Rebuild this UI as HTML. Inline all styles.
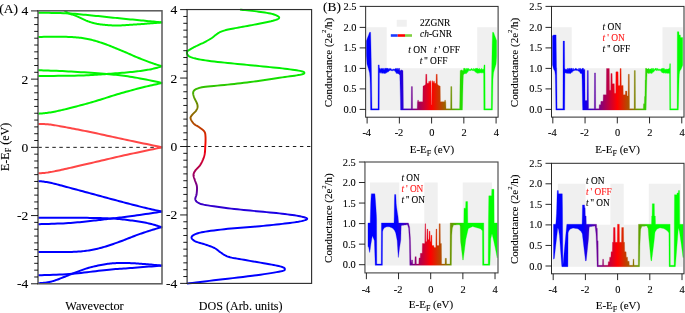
<!DOCTYPE html>
<html lang="en"><head><meta charset="utf-8"><title>Band structure, DOS and conductance</title>
<style>
html,body{margin:0;padding:0;background:#fff;}
body{width:685px;height:313px;overflow:hidden;font-family:"Liberation Serif",serif;}
svg{display:block;position:absolute;left:0;top:0;}
text{font-family:"Liberation Serif",serif;fill:#000;stroke:#000;stroke-width:0.1px;}
.ta text,text.ta{font-size:13.5px;}
.la{font-size:12.3px;}
.tb text{font-size:10.4px;}
.lb{font-size:11px;}
.lg{font-size:9.45px;}.lg text{font-size:inherit;white-space:pre;}
</style></head><body>
<svg width="685" height="313" viewBox="0 0 685 313">
<defs>
<linearGradient id="gy" gradientUnits="userSpaceOnUse" x1="0" y1="72.5" x2="0" y2="220.5">
<stop offset="0" stop-color="#00f000"/><stop offset="0.5" stop-color="#ff0000"/><stop offset="1" stop-color="#0000ff"/></linearGradient>

<linearGradient id="gb1" gradientUnits="userSpaceOnUse" x1="396.94" y1="0" x2="466.26" y2="0"><stop offset="0" stop-color="#0000ff"/><stop offset="0.5" stop-color="#ff0000"/><stop offset="1" stop-color="#00ff00"/></linearGradient>
<linearGradient id="gb2" gradientUnits="userSpaceOnUse" x1="582.64" y1="0" x2="651.96" y2="0"><stop offset="0" stop-color="#0000ff"/><stop offset="0.5" stop-color="#ff0000"/><stop offset="1" stop-color="#00ff00"/></linearGradient>
<linearGradient id="gb3" gradientUnits="userSpaceOnUse" x1="396.13" y1="0" x2="465.27" y2="0"><stop offset="0" stop-color="#0000ff"/><stop offset="0.5" stop-color="#ff0000"/><stop offset="1" stop-color="#00ff00"/></linearGradient>
<linearGradient id="gb4" gradientUnits="userSpaceOnUse" x1="582.99" y1="0" x2="652.22" y2="0"><stop offset="0" stop-color="#0000ff"/><stop offset="0.5" stop-color="#ff0000"/><stop offset="1" stop-color="#00ff00"/></linearGradient>
</defs>
<path d="M38.3,147.35 H162" stroke="#111" stroke-width="0.95" stroke-dasharray="3.5 3.5" fill="none"/>
<clipPath id="ca"><rect x="38" y="10.5" width="124.6" height="273.6"/></clipPath>
<g clip-path="url(#ca)" fill="none" stroke-width="2.0" stroke-linejoin="round">
<path d="M38.2,12.7 L39.67,12.73 L41.53,12.76 L43.71,12.79 L46.17,12.82 L48.84,12.86 L51.65,12.91 L54.55,12.96 L57.49,13.02 L60.39,13.1 L63.2,13.18 L65.85,13.28 L68.3,13.4 L70.59,13.53 L72.83,13.69 L75.02,13.86 L77.17,14.04 L79.29,14.23 L81.39,14.43 L83.47,14.64 L85.54,14.85 L87.61,15.07 L89.69,15.28 L91.78,15.49 L93.9,15.7 L96.03,15.91 L98.15,16.12 L100.28,16.33 L102.4,16.55 L104.53,16.77 L106.65,16.99 L108.77,17.21 L110.9,17.43 L113.02,17.65 L115.15,17.87 L117.27,18.09 L119.4,18.3 L121.56,18.51 L123.76,18.73 L125.99,18.95 L128.23,19.17 L130.48,19.39 L132.71,19.61 L134.92,19.83 L137.08,20.04 L139.18,20.24 L141.21,20.44 L143.16,20.62 L145,20.8 L146.79,20.97 L148.56,21.14 L150.31,21.3 L152.02,21.46 L153.67,21.61 L155.25,21.76 L156.74,21.89 L158.12,22.02 L159.39,22.13 L160.51,22.24 L161.49,22.33 L162.3,22.4" stroke="#00f500"/>
<path d="M62.5,8.6 L62.62,8.71 L62.76,8.84 L62.92,8.99 L63.1,9.16 L63.3,9.35 L63.51,9.54 L63.74,9.75 L63.98,9.96 L64.23,10.18 L64.48,10.39 L64.74,10.6 L65,10.8 L65.26,11 L65.51,11.2 L65.77,11.4 L66.03,11.6 L66.29,11.81 L66.57,12.01 L66.87,12.22 L67.2,12.43 L67.55,12.65 L67.93,12.86 L68.34,13.08 L68.8,13.3 L69.31,13.52 L69.87,13.75 L70.48,13.97 L71.12,14.2 L71.79,14.43 L72.48,14.66 L73.18,14.9 L73.88,15.13 L74.57,15.37 L75.24,15.61 L75.89,15.86 L76.5,16.1 L77.08,16.35 L77.65,16.61 L78.21,16.87 L78.76,17.13 L79.3,17.4 L79.83,17.66 L80.36,17.93 L80.89,18.19 L81.41,18.45 L81.94,18.71 L82.47,18.96 L83,19.2 L83.54,19.44 L84.07,19.67 L84.61,19.9 L85.14,20.13 L85.67,20.36 L86.21,20.58 L86.74,20.8 L87.27,21.01 L87.8,21.22 L88.33,21.42 L88.87,21.61 L89.4,21.8 L89.93,21.98 L90.47,22.16 L91,22.33 L91.53,22.49 L92.07,22.65 L92.6,22.8 L93.13,22.95 L93.67,23.09 L94.2,23.23 L94.73,23.36 L95.27,23.48 L95.8,23.6 L96.33,23.71 L96.85,23.82 L97.37,23.91 L97.88,24 L98.4,24.09 L98.91,24.17 L99.43,24.25 L99.96,24.32 L100.5,24.39 L101.05,24.46 L101.62,24.53 L102.2,24.6 L102.8,24.67 L103.42,24.74 L104.05,24.81 L104.69,24.87 L105.34,24.94 L106,25 L106.66,25.06 L107.33,25.11 L108,25.17 L108.67,25.22 L109.34,25.26 L110,25.3 L110.66,25.34 L111.32,25.37 L111.99,25.4 L112.65,25.43 L113.32,25.45 L113.99,25.47 L114.66,25.48 L115.33,25.5 L116,25.5 L116.66,25.51 L117.33,25.51 L118,25.5 L118.66,25.49 L119.32,25.47 L119.98,25.45 L120.63,25.42 L121.28,25.39 L121.94,25.35 L122.6,25.31 L123.26,25.27 L123.93,25.23 L124.61,25.19 L125.3,25.14 L126,25.1 L126.71,25.06 L127.43,25.01 L128.16,24.97 L128.89,24.92 L129.63,24.87 L130.38,24.82 L131.13,24.77 L131.89,24.71 L132.66,24.66 L133.43,24.61 L134.21,24.55 L135,24.5 L135.78,24.45 L136.52,24.4 L137.26,24.35 L137.99,24.3 L138.73,24.25 L139.48,24.2 L140.27,24.15 L141.09,24.09 L141.96,24.03 L142.9,23.96 L143.91,23.88 L145,23.8 L146.24,23.7 L147.66,23.59 L149.22,23.47 L150.87,23.33 L152.57,23.2 L154.28,23.06 L155.95,22.92 L157.54,22.79 L159.02,22.67 L160.33,22.56 L161.44,22.47 L162.3,22.4" stroke="#00f500"/>
<path d="M38.2,36.9 L39.69,36.89 L41.62,36.88 L43.89,36.86 L46.46,36.83 L49.23,36.81 L52.13,36.79 L55.1,36.77 L58.06,36.77 L60.93,36.77 L63.64,36.8 L66.12,36.84 L68.3,36.9 L70.23,36.98 L72.02,37.07 L73.69,37.17 L75.27,37.28 L76.75,37.41 L78.17,37.54 L79.54,37.7 L80.88,37.86 L82.19,38.05 L83.51,38.25 L84.84,38.46 L86.2,38.7 L87.56,38.95 L88.87,39.22 L90.15,39.5 L91.4,39.79 L92.63,40.1 L93.85,40.43 L95.07,40.78 L96.3,41.14 L97.55,41.52 L98.83,41.93 L100.14,42.35 L101.5,42.8 L102.9,43.27 L104.33,43.78 L105.79,44.31 L107.27,44.86 L108.77,45.44 L110.29,46.02 L111.81,46.63 L113.34,47.24 L114.86,47.85 L116.39,48.47 L117.9,49.09 L119.4,49.7 L120.9,50.32 L122.41,50.96 L123.94,51.61 L125.46,52.27 L126.99,52.94 L128.51,53.61 L130.03,54.28 L131.53,54.94 L133.01,55.58 L134.47,56.21 L135.9,56.82 L137.3,57.4 L138.68,57.96 L140.07,58.52 L141.44,59.07 L142.8,59.61 L144.14,60.13 L145.46,60.64 L146.75,61.14 L148.01,61.61 L149.23,62.07 L150.4,62.51 L151.53,62.92 L152.6,63.3 L153.64,63.66 L154.65,64 L155.65,64.32 L156.61,64.63 L157.53,64.91 L158.41,65.17 L159.23,65.41 L159.99,65.63 L160.69,65.83 L161.31,66.01 L161.85,66.16 L162.3,66.3" stroke="#00f500"/>
<path d="M38.2,70.2 L39.63,70.25 L41.38,70.31 L43.42,70.38 L45.7,70.46 L48.19,70.54 L50.86,70.64 L53.65,70.74 L56.54,70.85 L59.49,70.97 L62.46,71.11 L65.41,71.25 L68.3,71.4 L71.24,71.57 L74.36,71.75 L77.6,71.94 L80.93,72.15 L84.32,72.36 L87.73,72.59 L91.13,72.82 L94.47,73.05 L97.73,73.29 L100.86,73.53 L103.83,73.76 L106.6,74 L109.16,74.23 L111.55,74.44 L113.79,74.65 L115.91,74.86 L117.94,75.07 L119.91,75.29 L121.86,75.52 L123.8,75.77 L125.78,76.04 L127.82,76.33 L129.95,76.65 L132.2,77 L134.65,77.41 L137.3,77.88 L140.11,78.41 L143.01,78.97 L145.95,79.55 L148.85,80.14 L151.66,80.71 L154.33,81.26 L156.79,81.77 L158.97,82.22 L160.83,82.61 L162.3,82.9" stroke="#00f500"/>
<path d="M38.2,76 L40.33,75.98 L43.07,75.96 L46.32,75.93 L49.97,75.91 L53.91,75.88 L58.06,75.84 L62.29,75.8 L66.5,75.76 L70.59,75.71 L74.46,75.65 L78,75.58 L81.1,75.5 L83.83,75.41 L86.36,75.31 L88.7,75.21 L90.89,75.1 L92.95,74.98 L94.93,74.85 L96.85,74.72 L98.74,74.58 L100.63,74.44 L102.55,74.3 L104.53,74.15 L106.6,74 L108.75,73.85 L110.95,73.69 L113.17,73.53 L115.41,73.36 L117.65,73.19 L119.88,73.01 L122.07,72.83 L124.23,72.65 L126.34,72.47 L128.38,72.28 L130.34,72.09 L132.2,71.9 L133.98,71.71 L135.69,71.51 L137.35,71.32 L138.95,71.12 L140.49,70.92 L141.99,70.71 L143.44,70.5 L144.84,70.29 L146.21,70.08 L147.54,69.86 L148.83,69.63 L150.1,69.4 L151.36,69.15 L152.6,68.88 L153.84,68.59 L155.04,68.3 L156.21,67.99 L157.32,67.69 L158.37,67.4 L159.35,67.13 L160.24,66.87 L161.04,66.64 L161.73,66.45 L162.3,66.3" stroke="#00f500"/>
<path d="M38.2,113.7 L38.77,113.65 L39.46,113.59 L40.26,113.53 L41.15,113.46 L42.13,113.38 L43.18,113.29 L44.29,113.19 L45.46,113.07 L46.66,112.94 L47.9,112.78 L49.14,112.6 L50.4,112.4 L51.67,112.18 L52.96,111.94 L54.29,111.68 L55.66,111.4 L57.06,111.11 L58.51,110.8 L60.01,110.47 L61.55,110.12 L63.15,109.75 L64.81,109.35 L66.52,108.94 L68.3,108.5 L70.16,108.03 L72.12,107.54 L74.16,107.01 L76.27,106.46 L78.43,105.89 L80.62,105.3 L82.85,104.7 L85.09,104.09 L87.33,103.47 L89.55,102.84 L91.75,102.22 L93.9,101.6 L96.03,100.97 L98.15,100.33 L100.28,99.67 L102.4,99 L104.53,98.33 L106.65,97.65 L108.77,96.97 L110.9,96.3 L113.02,95.63 L115.15,94.97 L117.27,94.33 L119.4,93.7 L121.56,93.08 L123.76,92.46 L125.99,91.83 L128.23,91.21 L130.48,90.6 L132.71,89.99 L134.92,89.4 L137.08,88.83 L139.18,88.28 L141.21,87.76 L143.16,87.26 L145,86.8 L146.79,86.36 L148.56,85.94 L150.31,85.54 L152.02,85.16 L153.67,84.8 L155.25,84.47 L156.74,84.16 L158.12,83.87 L159.39,83.61 L160.51,83.38 L161.49,83.17 L162.3,83" stroke="#00f500"/>
<path d="M38.2,123.9 L38.77,123.93 L39.46,123.95 L40.26,123.97 L41.15,123.99 L42.13,124.02 L43.18,124.06 L44.29,124.1 L45.46,124.16 L46.66,124.24 L47.9,124.34 L49.14,124.46 L50.4,124.6 L51.67,124.77 L52.96,124.95 L54.29,125.16 L55.66,125.38 L57.06,125.62 L58.51,125.88 L60.01,126.15 L61.55,126.43 L63.15,126.73 L64.81,127.04 L66.52,127.36 L68.3,127.7 L70.14,128.05 L72.03,128.41 L73.98,128.79 L75.98,129.17 L78.04,129.58 L80.14,129.99 L82.3,130.42 L84.52,130.87 L86.79,131.33 L89.1,131.81 L91.48,132.3 L93.9,132.8 L96.39,133.33 L98.97,133.88 L101.62,134.45 L104.33,135.04 L107.09,135.65 L109.9,136.26 L112.74,136.89 L115.6,137.51 L118.48,138.14 L121.36,138.77 L124.24,139.39 L127.1,140 L130.08,140.63 L133.26,141.3 L136.58,141.99 L139.99,142.7 L143.41,143.4 L146.77,144.1 L150.03,144.77 L153.1,145.4 L155.93,145.99 L158.45,146.5 L160.59,146.95 L162.3,147.3" stroke="#ff4646"/>
<path d="M38.2,173.4 L38.77,173.35 L39.46,173.29 L40.26,173.22 L41.15,173.16 L42.13,173.08 L43.18,172.99 L44.29,172.88 L45.46,172.77 L46.66,172.63 L47.9,172.48 L49.14,172.3 L50.4,172.1 L51.67,171.88 L52.96,171.64 L54.29,171.38 L55.66,171.1 L57.06,170.8 L58.51,170.49 L60.01,170.16 L61.55,169.81 L63.15,169.46 L64.81,169.08 L66.52,168.7 L68.3,168.3 L70.14,167.89 L72.03,167.46 L73.98,167.01 L75.98,166.56 L78.04,166.08 L80.14,165.59 L82.3,165.09 L84.52,164.58 L86.79,164.05 L89.1,163.51 L91.48,162.96 L93.9,162.4 L96.39,161.82 L98.97,161.22 L101.62,160.59 L104.33,159.96 L107.09,159.3 L109.9,158.64 L112.74,157.98 L115.6,157.31 L118.48,156.65 L121.36,155.99 L124.24,155.34 L127.1,154.7 L130.08,154.05 L133.26,153.36 L136.58,152.66 L139.99,151.94 L143.41,151.22 L146.77,150.52 L150.03,149.84 L153.1,149.21 L155.93,148.62 L158.45,148.1 L160.59,147.66 L162.3,147.3" stroke="#ff4646"/>
<path d="M38.2,181 L38.77,181.08 L39.46,181.16 L40.26,181.26 L41.15,181.36 L42.13,181.48 L43.18,181.61 L44.29,181.76 L45.46,181.93 L46.66,182.11 L47.9,182.32 L49.14,182.55 L50.4,182.8 L51.67,183.08 L52.96,183.38 L54.29,183.7 L55.66,184.04 L57.06,184.4 L58.51,184.78 L60.01,185.18 L61.55,185.59 L63.15,186.02 L64.81,186.47 L66.52,186.93 L68.3,187.4 L70.16,187.89 L72.12,188.42 L74.16,188.96 L76.27,189.53 L78.43,190.11 L80.62,190.71 L82.85,191.31 L85.09,191.91 L87.33,192.52 L89.55,193.12 L91.75,193.72 L93.9,194.3 L96.03,194.88 L98.15,195.45 L100.28,196.03 L102.4,196.61 L104.53,197.19 L106.65,197.77 L108.77,198.35 L110.9,198.92 L113.02,199.5 L115.15,200.07 L117.27,200.64 L119.4,201.2 L121.56,201.77 L123.76,202.35 L125.99,202.94 L128.23,203.53 L130.48,204.11 L132.71,204.69 L134.92,205.26 L137.08,205.82 L139.18,206.35 L141.21,206.87 L143.16,207.35 L145,207.8 L146.79,208.23 L148.56,208.64 L150.31,209.04 L152.02,209.41 L153.67,209.77 L155.25,210.11 L156.74,210.43 L158.12,210.72 L159.39,210.98 L160.51,211.22 L161.49,211.43 L162.3,211.6" stroke="#0000ff"/>
<path d="M38.2,217.8 L40.31,217.8 L43.01,217.79 L46.19,217.78 L49.77,217.77 L53.65,217.76 L57.73,217.76 L61.92,217.75 L66.11,217.75 L70.23,217.75 L74.16,217.76 L77.82,217.78 L81.1,217.8 L84.12,217.83 L87.04,217.86 L89.87,217.89 L92.62,217.93 L95.28,217.97 L97.86,218.02 L100.36,218.07 L102.78,218.14 L105.14,218.21 L107.42,218.29 L109.64,218.39 L111.8,218.5 L113.87,218.62 L115.83,218.76 L117.68,218.9 L119.46,219.06 L121.16,219.23 L122.8,219.4 L124.4,219.58 L125.97,219.77 L127.52,219.97 L129.06,220.18 L130.62,220.39 L132.2,220.6 L133.8,220.82 L135.39,221.05 L136.98,221.29 L138.56,221.53 L140.12,221.79 L141.66,222.04 L143.17,222.31 L144.65,222.58 L146.08,222.85 L147.48,223.13 L148.82,223.41 L150.1,223.7 L151.36,224 L152.6,224.34 L153.84,224.69 L155.04,225.06 L156.21,225.43 L157.32,225.79 L158.37,226.15 L159.35,226.49 L160.24,226.8 L161.04,227.08 L161.73,227.31 L162.3,227.5" stroke="#0000ff"/>
<path d="M38.2,224.2 L39.67,224.15 L41.53,224.1 L43.71,224.04 L46.17,223.97 L48.84,223.89 L51.65,223.81 L54.55,223.71 L57.49,223.61 L60.39,223.5 L63.2,223.38 L65.85,223.24 L68.3,223.1 L70.62,222.94 L72.92,222.76 L75.2,222.56 L77.45,222.36 L79.68,222.14 L81.86,221.91 L84.01,221.68 L86.1,221.46 L88.15,221.23 L90.13,221.01 L92.05,220.8 L93.9,220.6 L95.65,220.41 L97.3,220.23 L98.86,220.06 L100.34,219.89 L101.78,219.72 L103.18,219.55 L104.55,219.38 L105.93,219.21 L107.33,219.04 L108.76,218.87 L110.25,218.69 L111.8,218.5 L113.38,218.31 L114.94,218.13 L116.5,217.95 L118.06,217.77 L119.63,217.58 L121.24,217.39 L122.89,217.2 L124.59,216.99 L126.36,216.77 L128.21,216.53 L130.15,216.28 L132.2,216 L134.46,215.69 L137,215.33 L139.75,214.93 L142.63,214.51 L145.58,214.08 L148.52,213.64 L151.4,213.22 L154.14,212.81 L156.66,212.44 L158.91,212.1 L160.81,211.82 L162.3,211.6" stroke="#0000ff"/>
<path d="M38.2,252 L39.69,252 L41.62,252.01 L43.89,252.03 L46.46,252.04 L49.23,252.06 L52.13,252.08 L55.1,252.09 L58.06,252.09 L60.93,252.08 L63.64,252.07 L66.12,252.04 L68.3,252 L70.23,251.95 L72.02,251.89 L73.69,251.83 L75.27,251.76 L76.75,251.68 L78.17,251.59 L79.54,251.5 L80.88,251.39 L82.19,251.26 L83.51,251.12 L84.84,250.97 L86.2,250.8 L87.56,250.62 L88.87,250.43 L90.15,250.22 L91.4,250.01 L92.63,249.78 L93.85,249.54 L95.07,249.29 L96.3,249.01 L97.55,248.72 L98.83,248.4 L100.14,248.06 L101.5,247.7 L102.9,247.31 L104.33,246.89 L105.79,246.45 L107.27,245.98 L108.77,245.49 L110.29,244.99 L111.81,244.47 L113.34,243.94 L114.86,243.41 L116.39,242.87 L117.9,242.34 L119.4,241.8 L120.9,241.25 L122.41,240.69 L123.94,240.1 L125.46,239.51 L126.99,238.9 L128.51,238.3 L130.03,237.7 L131.53,237.1 L133.01,236.52 L134.47,235.96 L135.9,235.42 L137.3,234.9 L138.68,234.4 L140.07,233.92 L141.44,233.44 L142.8,232.98 L144.14,232.53 L145.46,232.09 L146.75,231.67 L148.01,231.26 L149.23,230.87 L150.4,230.5 L151.53,230.14 L152.6,229.8 L153.64,229.48 L154.65,229.17 L155.65,228.87 L156.61,228.59 L157.53,228.33 L158.41,228.08 L159.23,227.85 L159.99,227.64 L160.69,227.45 L161.31,227.28 L161.85,227.13 L162.3,227" stroke="#0000ff"/>
<path d="M38.2,275.3 L39.84,275.24 L41.89,275.16 L44.3,275.09 L47,275 L49.94,274.9 L53.05,274.79 L56.28,274.67 L59.58,274.53 L62.88,274.38 L66.12,274.21 L69.24,274.01 L72.2,273.8 L75.08,273.55 L78.01,273.27 L80.98,272.95 L83.96,272.61 L86.95,272.25 L89.93,271.88 L92.87,271.51 L95.77,271.15 L98.61,270.8 L101.37,270.47 L104.04,270.17 L106.6,269.9 L109.03,269.67 L111.32,269.46 L113.51,269.27 L115.62,269.1 L117.66,268.95 L119.67,268.8 L121.66,268.66 L123.66,268.52 L125.69,268.38 L127.77,268.23 L129.94,268.07 L132.2,267.9 L134.65,267.71 L137.3,267.51 L140.11,267.29 L143.01,267.07 L145.95,266.85 L148.85,266.62 L151.66,266.41 L154.33,266.21 L156.79,266.02 L158.97,265.85 L160.83,265.71 L162.3,265.6" stroke="#0000ff"/>
<path d="M38.2,283.3 L38.63,283.26 L39.16,283.22 L39.79,283.17 L40.49,283.11 L41.26,283.05 L42.07,282.98 L42.91,282.91 L43.76,282.82 L44.61,282.73 L45.45,282.63 L46.25,282.52 L47,282.4 L47.69,282.28 L48.34,282.17 L48.95,282.06 L49.55,281.95 L50.15,281.83 L50.76,281.7 L51.39,281.55 L52.07,281.37 L52.81,281.16 L53.61,280.92 L54.51,280.63 L55.5,280.3 L56.6,279.91 L57.81,279.47 L59.1,278.97 L60.46,278.44 L61.88,277.88 L63.34,277.29 L64.83,276.7 L66.34,276.09 L67.84,275.49 L69.33,274.91 L70.79,274.34 L72.2,273.8 L73.58,273.28 L74.96,272.75 L76.33,272.21 L77.7,271.68 L79.06,271.15 L80.43,270.63 L81.8,270.12 L83.18,269.62 L84.57,269.13 L85.97,268.67 L87.37,268.22 L88.8,267.8 L90.26,267.4 L91.76,267.01 L93.28,266.63 L94.83,266.27 L96.38,265.92 L97.94,265.59 L99.48,265.27 L100.99,264.98 L102.47,264.7 L103.91,264.45 L105.29,264.21 L106.6,264 L107.84,263.81 L109.02,263.66 L110.16,263.52 L111.24,263.41 L112.3,263.32 L113.33,263.25 L114.33,263.19 L115.33,263.14 L116.33,263.1 L117.34,263.06 L118.36,263.03 L119.4,263 L120.46,262.97 L121.51,262.96 L122.55,262.95 L123.6,262.95 L124.64,262.96 L125.69,262.98 L126.73,263.01 L127.78,263.04 L128.83,263.07 L129.88,263.11 L130.94,263.16 L132,263.2 L133.06,263.25 L134.09,263.3 L135.12,263.36 L136.14,263.43 L137.17,263.49 L138.21,263.57 L139.26,263.65 L140.33,263.73 L141.44,263.82 L142.58,263.91 L143.76,264 L145,264.1 L146.35,264.21 L147.83,264.33 L149.43,264.47 L151.09,264.61 L152.78,264.76 L154.46,264.91 L156.1,265.05 L157.66,265.19 L159.09,265.32 L160.37,265.43 L161.45,265.53 L162.3,265.6" stroke="#0000ff"/>
</g>
<rect x="38" y="10.8" width="124" height="273" fill="none" stroke="#585858" stroke-width="1.5"/>
<path d="M31,283.79 h7 M34.2,276.97 h3.8 M34.2,270.15 h3.8 M34.2,263.32 h3.8 M34.2,256.5 h3.8 M34.2,249.68 h3.8 M34.2,242.86 h3.8 M34.2,236.04 h3.8 M34.2,229.21 h3.8 M34.2,222.39 h3.8 M31,215.57 h7 M34.2,208.75 h3.8 M34.2,201.93 h3.8 M34.2,195.1 h3.8 M34.2,188.28 h3.8 M34.2,181.46 h3.8 M34.2,174.64 h3.8 M34.2,167.82 h3.8 M34.2,160.99 h3.8 M34.2,154.17 h3.8 M31,147.35 h7 M34.2,140.53 h3.8 M34.2,133.71 h3.8 M34.2,126.88 h3.8 M34.2,120.06 h3.8 M34.2,113.24 h3.8 M34.2,106.42 h3.8 M34.2,99.6 h3.8 M34.2,92.77 h3.8 M34.2,85.95 h3.8 M31,79.13 h7 M34.2,72.31 h3.8 M34.2,65.49 h3.8 M34.2,58.66 h3.8 M34.2,51.84 h3.8 M34.2,45.02 h3.8 M34.2,38.2 h3.8 M34.2,31.38 h3.8 M34.2,24.55 h3.8 M34.2,17.73 h3.8 M31,10.91 h7" stroke="#000" stroke-width="0.9" fill="none"/>
<g class="ta" text-anchor="end">
<text x="28.3" y="15.41">4</text>
<text x="28.3" y="83.63">2</text>
<text x="28.3" y="151.85">0</text>
<text x="28.3" y="220.07">-2</text>
<text x="28.3" y="288.29">-4</text>
</g>
<text class="la" x="94.5" y="310.3" text-anchor="middle">Wavevector</text>
<text class="la" transform="translate(9.0,146.9) rotate(-90)" text-anchor="middle" style="font-size:12.1px">E-E<tspan dy="2.3" font-size="8">F</tspan><tspan dy="-2.3"> (eV)</tspan></text>
<text class="ta" x="-0.8" y="12.5">(A)</text>
<path d="M187,146.5 H311" stroke="#111" stroke-width="0.95" stroke-dasharray="3.4 3.66" fill="none"/>
<path d="M240,9.6 L241.29,9.73 L243.01,9.91 L245.06,10.11 L247.34,10.34 L249.73,10.59 L252.15,10.86 L254.47,11.13 L256.6,11.4 L258.64,11.67 L260.73,11.95 L262.83,12.25 L264.89,12.55 L266.89,12.87 L268.76,13.2 L270.48,13.54 L272,13.9 L273.36,14.28 L274.63,14.7 L275.78,15.13 L276.8,15.57 L277.66,16.01 L278.34,16.46 L278.83,16.89 L279.1,17.3 L279.18,17.69 L279.08,18.06 L278.82,18.41 L278.36,18.77 L277.71,19.13 L276.86,19.5 L275.79,19.88 L274.5,20.3 L272.9,20.75 L270.96,21.23 L268.76,21.72 L266.38,22.23 L263.89,22.74 L261.38,23.25 L258.92,23.74 L256.6,24.2 L254.33,24.65 L252,25.09 L249.65,25.53 L247.32,25.95 L245.03,26.36 L242.83,26.76 L240.74,27.14 L238.8,27.5 L237,27.84 L235.3,28.15 L233.7,28.44 L232.19,28.73 L230.77,29 L229.44,29.26 L228.18,29.53 L227,29.8 L225.92,30.07 L224.95,30.33 L224.07,30.58 L223.28,30.83 L222.54,31.08 L221.84,31.34 L221.17,31.61 L220.5,31.9 L219.87,32.19 L219.3,32.49 L218.78,32.79 L218.29,33.1 L217.82,33.42 L217.34,33.76 L216.84,34.12 L216.3,34.5 L215.75,34.91 L215.2,35.34 L214.65,35.79 L214.09,36.26 L213.5,36.73 L212.88,37.22 L212.22,37.71 L211.5,38.2 L210.72,38.7 L209.88,39.21 L209,39.73 L208.09,40.25 L207.15,40.77 L206.2,41.29 L205.25,41.8 L204.3,42.3 L203.34,42.79 L202.35,43.26 L201.34,43.74 L200.33,44.21 L199.32,44.67 L198.34,45.12 L197.39,45.56 L196.5,46 L195.65,46.42 L194.82,46.84 L194.01,47.24 L193.24,47.64 L192.5,48.03 L191.79,48.42 L191.12,48.81 L190.5,49.2 L189.89,49.58 L189.27,49.95 L188.67,50.3 L188.12,50.66 L187.64,51.03 L187.26,51.42 L187,51.84 L186.9,52.3 L186.9,52.81 L186.96,53.37 L187.1,53.96 L187.37,54.57 L187.78,55.19 L188.37,55.79 L189.17,56.37 L190.2,56.9 L191.47,57.39 L192.94,57.87 L194.61,58.32 L196.46,58.76 L198.48,59.18 L200.67,59.59 L203.01,60 L205.5,60.4 L208.21,60.79 L211.18,61.18 L214.35,61.55 L217.66,61.91 L221.05,62.27 L224.47,62.62 L227.83,62.96 L231.1,63.3 L234.29,63.63 L237.48,63.95 L240.67,64.26 L243.85,64.57 L247.03,64.87 L250.22,65.18 L253.41,65.49 L256.6,65.8 L259.85,66.12 L263.18,66.45 L266.54,66.77 L269.88,67.1 L273.17,67.43 L276.35,67.75 L279.37,68.08 L282.2,68.4 L284.89,68.72 L287.51,69.04 L290.04,69.37 L292.42,69.69 L294.65,70 L296.67,70.31 L298.47,70.61 L300,70.9 L301.25,71.17 L302.25,71.44 L303.02,71.69 L303.59,71.94 L303.98,72.18 L304.23,72.42 L304.36,72.66 L304.4,72.9 L304.36,73.14 L304.23,73.37 L303.98,73.59 L303.59,73.81 L303.02,74.04 L302.25,74.28 L301.25,74.53 L300,74.8 L298.47,75.08 L296.68,75.37 L294.65,75.67 L292.43,75.98 L290.04,76.31 L287.51,76.65 L284.89,77.01 L282.2,77.4 L279.37,77.82 L276.35,78.28 L273.17,78.77 L269.88,79.27 L266.54,79.77 L263.18,80.27 L259.85,80.75 L256.6,81.2 L253.41,81.63 L250.22,82.04 L247.03,82.44 L243.85,82.83 L240.67,83.21 L237.48,83.58 L234.29,83.95 L231.1,84.3 L227.79,84.64 L224.32,84.98 L220.77,85.3 L217.26,85.61 L213.88,85.92 L210.73,86.22 L207.9,86.51 L205.5,86.8 L203.55,87.08 L201.97,87.33 L200.69,87.58 L199.66,87.82 L198.79,88.06 L198.04,88.32 L197.33,88.6 L196.6,88.9 L195.89,89.22 L195.29,89.54 L194.78,89.87 L194.35,90.21 L194,90.58 L193.71,90.98 L193.48,91.42 L193.3,91.9 L193.18,92.42 L193.13,92.97 L193.15,93.54 L193.23,94.16 L193.36,94.8 L193.54,95.49 L193.76,96.22 L194,97 L194.32,97.86 L194.76,98.8 L195.26,99.81 L195.79,100.85 L196.31,101.89 L196.78,102.9 L197.16,103.84 L197.4,104.7 L197.53,105.46 L197.6,106.14 L197.6,106.77 L197.53,107.36 L197.4,107.94 L197.2,108.53 L196.93,109.14 L196.6,109.8 L196.14,110.52 L195.53,111.28 L194.81,112.08 L194.05,112.87 L193.29,113.66 L192.57,114.4 L191.96,115.09 L191.5,115.7 L191.17,116.21 L190.9,116.62 L190.7,116.98 L190.58,117.3 L190.51,117.61 L190.51,117.95 L190.57,118.34 L190.7,118.8 L190.9,119.35 L191.19,119.98 L191.55,120.65 L191.97,121.34 L192.44,122.03 L192.95,122.7 L193.47,123.33 L194,123.9 L194.56,124.39 L195.17,124.83 L195.82,125.23 L196.49,125.6 L197.17,125.97 L197.86,126.35 L198.54,126.75 L199.2,127.2 L199.87,127.68 L200.57,128.19 L201.29,128.7 L202,129.24 L202.68,129.78 L203.3,130.35 L203.85,130.92 L204.3,131.5 L204.65,132.07 L204.91,132.61 L205.1,133.15 L205.23,133.71 L205.32,134.32 L205.39,134.98 L205.44,135.74 L205.5,136.6 L205.55,137.59 L205.57,138.71 L205.56,139.91 L205.54,141.18 L205.5,142.47 L205.44,143.78 L205.37,145.07 L205.3,146.3 L205.23,147.5 L205.17,148.7 L205.11,149.9 L205.03,151.1 L204.92,152.29 L204.77,153.47 L204.57,154.64 L204.3,155.8 L203.96,156.96 L203.56,158.14 L203.1,159.31 L202.61,160.47 L202.08,161.61 L201.53,162.7 L200.96,163.74 L200.4,164.7 L199.8,165.59 L199.13,166.42 L198.43,167.2 L197.72,167.94 L197.02,168.64 L196.37,169.31 L195.79,169.96 L195.3,170.6 L194.9,171.21 L194.55,171.77 L194.25,172.29 L194,172.8 L193.8,173.3 L193.65,173.81 L193.55,174.34 L193.5,174.9 L193.51,175.49 L193.59,176.09 L193.73,176.7 L193.91,177.32 L194.12,177.96 L194.35,178.61 L194.58,179.29 L194.8,180 L195.04,180.73 L195.33,181.48 L195.63,182.25 L195.95,183.04 L196.25,183.85 L196.53,184.68 L196.75,185.53 L196.9,186.4 L196.98,187.32 L197.02,188.29 L197.01,189.31 L196.96,190.33 L196.89,191.35 L196.8,192.33 L196.7,193.25 L196.6,194.1 L196.46,194.87 L196.25,195.6 L196.01,196.28 L195.77,196.92 L195.55,197.53 L195.37,198.11 L195.28,198.67 L195.3,199.2 L195.4,199.7 L195.56,200.17 L195.77,200.6 L196.04,201.01 L196.39,201.4 L196.81,201.77 L197.31,202.14 L197.9,202.5 L198.49,202.84 L199.03,203.16 L199.59,203.45 L200.26,203.73 L201.11,204.02 L202.22,204.32 L203.65,204.64 L205.5,205 L207.84,205.4 L210.64,205.85 L213.79,206.31 L217.18,206.79 L220.72,207.27 L224.29,207.74 L227.78,208.19 L231.1,208.6 L234.29,208.97 L237.48,209.32 L240.67,209.65 L243.85,209.97 L247.03,210.28 L250.22,210.58 L253.41,210.89 L256.6,211.2 L259.85,211.52 L263.17,211.83 L266.53,212.14 L269.88,212.45 L273.16,212.76 L276.34,213.07 L279.37,213.38 L282.2,213.7 L284.88,214.02 L287.47,214.35 L289.95,214.67 L292.31,215 L294.52,215.33 L296.56,215.65 L298.43,215.98 L300.1,216.3 L301.6,216.62 L302.97,216.93 L304.18,217.24 L305.21,217.55 L306.05,217.86 L306.68,218.17 L307.07,218.48 L307.2,218.8 L307.07,219.12 L306.68,219.45 L306.05,219.77 L305.21,220.1 L304.18,220.43 L302.97,220.75 L301.6,221.08 L300.1,221.4 L298.43,221.72 L296.56,222.03 L294.52,222.34 L292.31,222.65 L289.95,222.96 L287.47,223.27 L284.88,223.58 L282.2,223.9 L279.37,224.22 L276.34,224.56 L273.16,224.89 L269.88,225.23 L266.53,225.56 L263.17,225.89 L259.85,226.2 L256.6,226.5 L253.41,226.77 L250.22,227.02 L247.03,227.25 L243.85,227.47 L240.67,227.7 L237.48,227.94 L234.29,228.2 L231.1,228.5 L227.8,228.84 L224.35,229.21 L220.83,229.6 L217.34,230.01 L213.98,230.43 L210.82,230.83 L207.96,231.23 L205.5,231.6 L203.44,231.94 L201.72,232.27 L200.27,232.58 L199.04,232.89 L197.98,233.2 L197.04,233.51 L196.16,233.84 L195.3,234.2 L194.47,234.58 L193.72,234.96 L193.07,235.36 L192.53,235.77 L192.09,236.2 L191.77,236.62 L191.57,237.06 L191.5,237.5 L191.57,237.95 L191.77,238.43 L192.09,238.91 L192.53,239.4 L193.07,239.89 L193.72,240.37 L194.47,240.85 L195.3,241.3 L196.28,241.74 L197.43,242.16 L198.71,242.57 L200.08,242.98 L201.48,243.38 L202.88,243.78 L204.24,244.19 L205.5,244.6 L206.7,245.01 L207.91,245.42 L209.1,245.83 L210.28,246.24 L211.41,246.66 L212.5,247.09 L213.54,247.54 L214.5,248 L215.36,248.48 L216.12,248.98 L216.8,249.5 L217.45,250.03 L218.09,250.56 L218.76,251.1 L219.48,251.65 L220.3,252.2 L221.16,252.77 L222.01,253.36 L222.88,253.97 L223.8,254.57 L224.79,255.17 L225.89,255.75 L227.11,256.3 L228.5,256.8 L230.01,257.24 L231.61,257.63 L233.3,257.98 L235.12,258.31 L237.07,258.64 L239.17,258.99 L241.44,259.37 L243.9,259.8 L246.69,260.29 L249.86,260.84 L253.28,261.42 L256.81,262.01 L260.32,262.61 L263.68,263.18 L266.75,263.72 L269.4,264.2 L271.68,264.63 L273.73,265.02 L275.58,265.39 L277.23,265.73 L278.71,266.06 L280.01,266.37 L281.17,266.68 L282.2,267 L283.06,267.31 L283.72,267.62 L284.21,267.91 L284.54,268.2 L284.75,268.48 L284.85,268.76 L284.86,269.03 L284.8,269.3 L284.76,269.55 L284.76,269.78 L284.71,269.99 L284.53,270.2 L284.14,270.42 L283.46,270.67 L282.41,270.96 L280.9,271.3 L278.93,271.69 L276.59,272.13 L273.9,272.59 L270.9,273.09 L267.63,273.6 L264.14,274.13 L260.45,274.67 L256.6,275.2 L252.44,275.75 L247.85,276.32 L242.96,276.91 L237.89,277.51 L232.77,278.1 L227.72,278.69 L222.85,279.26 L218.3,279.8 L213.83,280.34 L209.23,280.9 L204.64,281.45 L200.21,281.99 L196.07,282.49 L192.38,282.94 L189.28,283.31 L186.9,283.6" stroke="url(#gy)" stroke-width="1.95" fill="none" stroke-linejoin="round"/>
<rect x="187.1" y="9.55" width="124.5" height="273.85" fill="none" stroke="#303030" stroke-width="1.15"/>
<path d="M180.1,283.38 h7 M183.3,276.54 h3.8 M183.3,269.69 h3.8 M183.3,262.85 h3.8 M183.3,256 h3.8 M183.3,249.16 h3.8 M183.3,242.32 h3.8 M183.3,235.47 h3.8 M183.3,228.63 h3.8 M183.3,221.78 h3.8 M180.1,214.94 h7 M183.3,208.1 h3.8 M183.3,201.25 h3.8 M183.3,194.41 h3.8 M183.3,187.56 h3.8 M183.3,180.72 h3.8 M183.3,173.88 h3.8 M183.3,167.03 h3.8 M183.3,160.19 h3.8 M183.3,153.34 h3.8 M180.1,146.5 h7 M183.3,139.66 h3.8 M183.3,132.81 h3.8 M183.3,125.97 h3.8 M183.3,119.12 h3.8 M183.3,112.28 h3.8 M183.3,105.44 h3.8 M183.3,98.59 h3.8 M183.3,91.75 h3.8 M183.3,84.9 h3.8 M180.1,78.06 h7 M183.3,71.22 h3.8 M183.3,64.37 h3.8 M183.3,57.53 h3.8 M183.3,50.68 h3.8 M183.3,43.84 h3.8 M183.3,37 h3.8 M183.3,30.15 h3.8 M183.3,23.31 h3.8 M183.3,16.46 h3.8 M180.1,9.62 h7" stroke="#000" stroke-width="0.9" fill="none"/>
<g class="ta" text-anchor="end">
<text x="177.3" y="14.12">4</text>
<text x="177.3" y="82.56">2</text>
<text x="177.3" y="151">0</text>
<text x="177.3" y="219.44">-2</text>
<text x="177.3" y="287.88">-4</text>
</g>
<text class="la" x="240.7" y="310.3" text-anchor="middle" style="font-size:12.1px">DOS (Arb. units)</text>
<path d="M366.4,27.3 H386.7 V110.2 H366.4 Z M386.7,68.3 H477.2 V110.2 H386.7 Z M477.2,27.3 H496.8 V110.2 H477.2 Z" fill="#f0f0f0"/>
<path d="M366.4,40.69 L366.6,40.16 L366.8,39.64 L367,39.11 L367.2,38.59 L367.4,38.06 L367.6,37.54 L367.8,37.01 L368,36.49 L368.2,35.96 L368.4,35.44 L368.6,34.91 L368.8,34.39 L369,33.86 L369.2,33.34 L369.4,32.81 L369.6,32.29 L369.8,32.29 L370,32.29 L370.2,32.29 L370.4,32.29 L370.6,32.29 L370.8,39.53 L371,48.07 L371.2,57.91 L371.4,67.75 L371.6,82.1 L371.8,96.45 L372,108.75 L372.2,108.75 L372.4,108.75 L372.6,108.75 L372.8,108.75 L373,108.75 L373.2,108.75 L373.4,108.75 L373.6,108.75 L373.8,108.75 L374,108.75 L374.2,108.75 L374.4,108.75 L374.6,108.75 L374.8,108.75 L375,108.75 L375.2,108.75 L375.4,108.75 L375.6,108.75 L375.8,108.75 L376,108.75 L376.2,108.75 L376.4,108.75 L376.6,108.75 L376.8,108.75 L377,108.75 L377.2,108.75 L377.4,108.75 L377.6,108.75 L377.8,108.75 L378,108.75 L378.2,64.88 L378.4,64.88 L378.6,64.88 L378.8,64.88 L379,64.88 L379.2,64.88 L379.4,68.37 L379.6,68.37 L379.8,68.37 L380,68.37 L380.2,69.25 L380.4,69.25 L380.6,69.25 L380.8,68.37 L381,68.37 L381.2,68.37 L381.4,68.37 L381.6,68.37 L381.8,69.01 L382,69.01 L382.2,69.01 L382.4,68.37 L382.6,68.37 L382.8,68.37 L383,69.56 L383.2,69.56 L383.4,68.37 L383.6,68.37 L383.8,68.37 L384,69.46 L384.2,69.46 L384.4,69.46 L384.6,68.37 L384.8,68.37 L385,68.37 L385.2,68.37 L385.4,68.37 L385.6,68.37 L385.8,68.37 L386,68.37 L386.2,68.37 L386.4,68.37 L386.6,68.37 L386.8,68.37 L387,68.37 L387.2,68.37 L387.4,68.37 L387.6,68.37 L387.8,68.37 L388,68.37 L388.2,68.37 L388.4,69.37 L388.6,69.37 L388.8,69.37 L389,68.37 L389.2,68.37 L389.4,68.37 L389.6,69.33 L389.8,69.33 L390,68.92 L390.2,68.92 L390.4,68.92 L390.6,68.37 L390.8,68.37 L391,68.37 L391.2,69.38 L391.4,69.38 L391.6,69.38 L391.8,69.17 L392,69.17 L392.2,69.5 L392.4,69.5 L392.6,69.5 L392.8,69.39 L393,69.39 L393.2,69.39 L393.4,68.95 L393.6,68.95 L393.8,68.95 L394,68.92 L394.2,68.92 L394.4,69.14 L394.6,69.14 L394.8,69.14 L395,69 L395.2,69 L395.4,69 L395.6,68.37 L395.8,68.37 L396,68.37 L396.2,69.29 L396.4,69.29 L396.6,68.37 L396.8,68.37 L397,68.37 L397.2,68.37 L397.4,68.37 L397.6,68.37 L397.8,69.57 L398,69.57 L398.2,69.57 L398.4,69.11 L398.6,68.37 L398.8,68.37 L399,68.37 L399.2,68.37 L399.4,68.37 L399.6,68.37 L399.8,70.62 L400,70.62 L400.2,70.62 L400.4,70.62 L400.6,70.62 L400.8,70.62 L401,70.62 L401.2,69.84 L401.4,69.93 L401.6,70.02 L401.8,70.1 L402,70.19 L402.2,70.27 L402.4,70.36 L402.6,70.45 L402.8,70.53 L403,70.62 L403.2,89.68 L403.4,108.75 L403.6,108.75 L403.8,108.75 L404,108.75 L404.2,108.75 L404.4,108.75 L404.6,108.75 L404.8,108.75 L405,108.75 L405.2,108.75 L405.4,108.75 L405.6,108.75 L405.8,108.75 L406,108.75 L406.2,108.75 L406.4,108.75 L406.6,108.75 L406.8,108.75 L407,108.75 L407.2,108.75 L407.4,108.75 L407.6,108.75 L407.8,108.75 L408,108.75 L408.2,108.75 L408.4,108.75 L408.6,108.75 L408.8,108.75 L409,108.75 L409.2,108.75 L409.4,108.75 L409.6,108.75 L409.8,108.75 L410,108.75 L410.2,108.75 L410.4,108.75 L410.6,108.75 L410.8,108.75 L411,108.75 L411.2,108.75 L411.4,86.61 L411.6,86.61 L411.8,86.61 L412,86.61 L412.2,86.61 L412.4,86.61 L412.6,108.75 L412.8,108.75 L413,108.75 L413.2,108.75 L413.4,108.75 L413.6,108.75 L413.8,108.75 L414,108.75 L414.2,108.75 L414.4,108.75 L414.6,108.75 L414.8,108.75 L415,108.75 L415.2,108.75 L415.4,108.75 L415.6,108.75 L415.8,108.75 L416,108.75 L416.2,108.75 L416.4,108.75 L416.6,108.75 L416.8,108.75 L417,108.75 L417.2,108.75 L417.4,101.78 L417.6,101.78 L417.8,100.14 L418,100.14 L418.2,100.14 L418.4,100.14 L418.6,101.78 L418.8,101.78 L419,101.78 L419.2,101.78 L419.4,101.78 L419.6,101.78 L419.8,101.78 L420,101.78 L420.2,101.78 L420.4,101.78 L420.6,101.78 L420.8,101.78 L421,101.78 L421.2,101.78 L421.4,101.78 L421.6,101.78 L421.8,101.78 L422,101.78 L422.2,101.78 L422.4,101.78 L422.6,101.78 L422.8,101.78 L423,86.15 L423.2,86.05 L423.4,85.94 L423.6,85.84 L423.8,85.74 L424,85.64 L424.2,85.53 L424.4,85.43 L424.6,85.28 L424.8,85.07 L425,84.87 L425.2,84.66 L425.4,84.46 L425.6,84.25 L425.8,74.31 L426,74.31 L426.2,74.31 L426.4,74.31 L426.6,74.31 L426.8,74.31 L427,83.33 L427.2,83.33 L427.4,83.33 L427.6,83.33 L427.8,83.33 L428,83.33 L428.2,83.33 L428.4,83.33 L428.6,83.33 L428.8,81.28 L429,81.28 L429.2,81.28 L429.4,81.28 L429.6,81.28 L429.8,82.51 L430,82.51 L430.2,82.51 L430.4,80.87 L430.6,80.87 L430.8,80.87 L431,80.87 L431.2,92.76 L431.4,104.65 L431.6,104.65 L431.8,104.65 L432,80.87 L432.2,80.87 L432.4,80.87 L432.6,80.87 L432.8,82.51 L433,82.51 L433.2,82.51 L433.4,82.51 L433.6,81.28 L433.8,81.28 L434,81.28 L434.2,81.28 L434.4,81.28 L434.6,83.33 L434.8,83.33 L435,83.33 L435.2,83.33 L435.4,83.33 L435.6,83.33 L435.8,83.33 L436,83.33 L436.2,74.31 L436.4,74.31 L436.6,74.31 L436.8,74.31 L437,74.31 L437.2,74.31 L437.4,84.15 L437.6,84.35 L437.8,84.56 L438,84.76 L438.2,84.97 L438.4,85.17 L438.6,85.38 L438.8,85.48 L439,85.58 L439.2,85.69 L439.4,85.79 L439.6,85.89 L439.8,85.99 L440,86.1 L440.2,86.2 L440.4,101.78 L440.6,101.78 L440.8,101.78 L441,101.78 L441.2,101.78 L441.4,101.78 L441.6,101.78 L441.8,101.78 L442,101.78 L442.2,101.78 L442.4,101.78 L442.6,101.78 L442.8,101.78 L443,101.78 L443.2,101.78 L443.4,101.78 L443.6,101.78 L443.8,101.78 L444,101.78 L444.2,101.78 L444.4,101.78 L444.6,101.78 L444.8,100.14 L445,100.14 L445.2,100.14 L445.4,100.14 L445.6,101.78 L445.8,101.78 L446,108.75 L446.2,108.75 L446.4,108.75 L446.6,108.75 L446.8,108.75 L447,108.75 L447.2,108.75 L447.4,108.75 L447.6,108.75 L447.8,108.75 L448,108.75 L448.2,108.75 L448.4,108.75 L448.6,108.75 L448.8,108.75 L449,108.75 L449.2,108.75 L449.4,108.75 L449.6,108.75 L449.8,108.75 L450,108.75 L450.2,108.75 L450.4,108.75 L450.6,108.75 L450.8,86.61 L451,86.61 L451.2,86.61 L451.4,86.61 L451.6,86.61 L451.8,86.61 L452,108.75 L452.2,108.75 L452.4,108.75 L452.6,108.75 L452.8,108.75 L453,108.75 L453.2,108.75 L453.4,108.75 L453.6,108.75 L453.8,108.75 L454,108.75 L454.2,108.75 L454.4,108.75 L454.6,108.75 L454.8,108.75 L455,108.75 L455.2,108.75 L455.4,108.75 L455.6,108.75 L455.8,108.75 L456,108.75 L456.2,108.75 L456.4,108.75 L456.6,108.75 L456.8,108.75 L457,108.75 L457.2,108.75 L457.4,108.75 L457.6,108.75 L457.8,108.75 L458,108.75 L458.2,108.75 L458.4,108.75 L458.6,108.75 L458.8,108.75 L459,108.75 L459.2,108.75 L459.4,108.75 L459.6,108.75 L459.8,99.22 L460,80.15 L460.2,70.58 L460.4,70.49 L460.6,70.4 L460.8,70.32 L461,70.23 L461.2,70.15 L461.4,70.06 L461.6,69.97 L461.8,69.89 L462,69.8 L462.2,70.62 L462.4,70.62 L462.6,70.62 L462.8,70.62 L463,70.62 L463.2,70.62 L463.4,70.62 L463.6,68.37 L463.8,68.37 L464,68.37 L464.2,68.37 L464.4,68.37 L464.6,68.37 L464.8,68.37 L465,68.37 L465.2,68.37 L465.4,69.48 L465.6,69.48 L465.8,69.48 L466,68.37 L466.2,68.37 L466.4,68.37 L466.6,69.54 L466.8,69.54 L467,68.37 L467.2,68.37 L467.4,68.37 L467.6,69.03 L467.8,69.03 L468,69.03 L468.2,68.37 L468.4,68.37 L468.6,68.37 L468.8,69.31 L469,69.31 L469.2,69.28 L469.4,69.28 L469.6,69.28 L469.8,69.58 L470,69.58 L470.2,69.58 L470.4,69.31 L470.6,69.31 L470.8,69.31 L471,68.94 L471.2,68.94 L471.4,68.37 L471.6,68.37 L471.8,68.37 L472,69.17 L472.2,69.17 L472.4,69.17 L472.6,69.31 L472.8,69.31 L473,69.31 L473.2,69.55 L473.4,69.55 L473.6,68.37 L473.8,68.37 L474,68.37 L474.2,68.97 L474.4,68.97 L474.6,68.97 L474.8,69.31 L475,69.31 L475.2,69.31 L475.4,68.37 L475.6,68.37 L475.8,68.37 L476,68.37 L476.2,68.37 L476.4,68.37 L476.6,68.37 L476.8,68.37 L477,68.37 L477.2,68.37 L477.4,68.37 L477.6,68.37 L477.8,68.37 L478,68.94 L478.2,68.94 L478.4,68.94 L478.6,68.99 L478.8,68.99 L479,68.99 L479.2,68.37 L479.4,68.37 L479.6,68.37 L479.8,69.45 L480,69.45 L480.2,69.36 L480.4,69.36 L480.6,69.36 L480.8,69.26 L481,69.26 L481.2,69.26 L481.4,68.37 L481.6,68.37 L481.8,68.37 L482,69.52 L482.2,69.52 L482.4,69.21 L482.6,69.21 L482.8,69.21 L483,69.24 L483.2,69.24 L483.4,69.24 L483.6,68.96 L483.8,68.37 L484,64.88 L484.2,64.88 L484.4,64.88 L484.6,64.88 L484.8,64.88 L485,64.88 L485.2,108.75 L485.4,108.75 L485.6,108.75 L485.8,108.75 L486,108.75 L486.2,108.75 L486.4,108.75 L486.6,108.75 L486.8,108.75 L487,108.75 L487.2,108.75 L487.4,108.75 L487.6,108.75 L487.8,108.75 L488,108.75 L488.2,108.75 L488.4,108.75 L488.6,108.75 L488.8,108.75 L489,108.75 L489.2,108.75 L489.4,108.75 L489.6,108.75 L489.8,108.75 L490,108.75 L490.2,108.75 L490.4,108.75 L490.6,108.75 L490.8,108.75 L491,108.75 L491.2,108.75 L491.4,89.28 L491.6,74.93 L491.8,62.83 L492,52.99 L492.2,43.15 L492.4,35.91 L492.6,32.29 L492.8,32.29 L493,32.29 L493.2,32.29 L493.4,32.29 L493.6,32.55 L493.8,33.07 L494,33.6 L494.2,34.12 L494.4,34.65 L494.6,35.17 L494.8,35.7 L495,36.22 L495.2,36.75 L495.4,37.28 L495.6,37.8 L495.8,38.33 L496,38.85 L496.2,39.38 L496.4,39.9 L496.6,40.43 L496.6,56.27 L496.4,59.42 L496.2,62.56 L496,64.46 L495.8,65.11 L495.6,65.77 L495.4,66.43 L495.2,67.08 L495,67.74 L494.8,68.39 L494.6,69.05 L494.4,69.8 L494.2,70.54 L494,71.29 L493.8,72.03 L493.6,72.78 L493.4,74.38 L493.2,76.84 L493,79.3 L492.8,88.87 L492.6,101.85 L492.4,110.05 L492.2,110.05 L492,110.05 L491.8,110.05 L491.6,110.05 L491.4,110.05 L491.2,110.05 L491,110.05 L490.8,110.05 L490.6,110.05 L490.4,110.05 L490.2,110.05 L490,110.05 L489.8,110.05 L489.6,110.05 L489.4,110.05 L489.2,110.05 L489,110.05 L488.8,110.05 L488.6,110.05 L488.4,110.05 L488.2,110.05 L488,110.05 L487.8,110.05 L487.6,110.05 L487.4,110.05 L487.2,110.05 L487,110.05 L486.8,110.05 L486.6,110.05 L486.4,110.05 L486.2,110.05 L486,110.05 L485.8,110.05 L485.6,110.05 L485.4,110.05 L485.2,110.05 L485,110.05 L484.8,110.05 L484.6,110.05 L484.4,110.05 L484.2,110.05 L484,110.05 L483.8,110.05 L483.6,72.87 L483.4,72.68 L483.2,73.29 L483,72.74 L482.8,72.76 L482.6,72.79 L482.4,73.01 L482.2,72.56 L482,72.67 L481.8,73.33 L481.6,72.98 L481.4,73 L481.2,72.58 L481,72.56 L480.8,72.85 L480.6,72.68 L480.4,72.71 L480.2,73.2 L480,72.74 L479.8,72.83 L479.6,72.93 L479.4,73.23 L479.2,72.79 L479,72.95 L478.8,72.79 L478.6,73.14 L478.4,72.94 L478.2,73.36 L478,73.08 L477.8,73.61 L477.6,73.06 L477.4,72.99 L477.2,72.71 L477,73.29 L476.8,72.78 L476.6,72.58 L476.4,72.73 L476.2,72.81 L476,72.27 L475.8,72.48 L475.6,71.97 L475.4,71.94 L475.2,71.79 L475,71.53 L474.8,71.29 L474.6,71.48 L474.4,70.75 L474.2,70.61 L474,70.88 L473.8,70.83 L473.6,70.36 L473.4,70.85 L473.2,70.85 L473,70.61 L472.8,70.61 L472.6,70.61 L472.4,70.55 L472.2,70.47 L472,70.47 L471.8,70.22 L471.6,69.97 L471.4,70.21 L471.2,70.24 L471,70.24 L470.8,70.61 L470.6,70.61 L470.4,70.61 L470.2,70.88 L470,70.88 L469.8,70.88 L469.6,70.58 L469.4,70.59 L469.2,70.58 L469,70.61 L468.8,70.61 L468.6,70.54 L468.4,71.37 L468.2,70.9 L468,71.47 L467.8,72.15 L467.6,71.51 L467.4,72.64 L467.2,72.57 L467,72.82 L466.8,72.75 L466.6,73.26 L466.4,73.63 L466.2,73.49 L466,73.38 L465.8,72.96 L465.6,73.9 L465.4,73.81 L465.2,73.01 L465,73.33 L464.8,73.89 L464.6,73.56 L464.4,73.81 L464.2,74.06 L464,74.32 L463.8,74.57 L463.6,74.82 L463.4,75.07 L463.2,78.96 L463,86.48 L462.8,93.99 L462.6,103.9 L462.4,110.05 L462.2,110.05 L462,110.05 L461.8,110.05 L461.6,110.05 L461.4,110.05 L461.2,110.05 L461,110.05 L460.8,110.05 L460.6,110.05 L460.4,110.05 L460.2,110.05 L460,110.05 L459.8,110.05 L459.6,110.05 L459.4,110.05 L459.2,110.05 L459,110.05 L458.8,110.05 L458.6,110.05 L458.4,110.05 L458.2,110.05 L458,110.05 L457.8,110.05 L457.6,110.05 L457.4,110.05 L457.2,110.05 L457,110.05 L456.8,110.05 L456.6,110.05 L456.4,110.05 L456.2,110.05 L456,110.05 L455.8,110.05 L455.6,110.05 L455.4,110.05 L455.2,110.05 L455,110.05 L454.8,110.05 L454.6,110.05 L454.4,110.05 L454.2,110.05 L454,110.05 L453.8,110.05 L453.6,110.05 L453.4,110.05 L453.2,110.05 L453,110.05 L452.8,110.05 L452.6,110.05 L452.4,110.05 L452.2,110.05 L452,110.05 L451.8,110.05 L451.6,110.05 L451.4,110.05 L451.2,110.05 L451,110.05 L450.8,110.05 L450.6,110.05 L450.4,110.05 L450.2,110.05 L450,110.05 L449.8,110.05 L449.6,110.05 L449.4,110.05 L449.2,110.05 L449,110.05 L448.8,110.05 L448.6,110.05 L448.4,110.05 L448.2,110.05 L448,110.05 L447.8,110.05 L447.6,110.05 L447.4,110.05 L447.2,110.05 L447,110.05 L446.8,110.05 L446.6,110.05 L446.4,110.05 L446.2,110.05 L446,110.05 L445.8,110.05 L445.6,110.05 L445.4,110.05 L445.2,110.05 L445,110.05 L444.8,110.05 L444.6,110.05 L444.4,110.05 L444.2,110.05 L444,110.05 L443.8,110.05 L443.6,110.05 L443.4,110.05 L443.2,110.05 L443,110.05 L442.8,110.05 L442.6,110.05 L442.4,110.05 L442.2,110.05 L442,110.05 L441.8,110.05 L441.6,110.05 L441.4,110.05 L441.2,110.05 L441,110.05 L440.8,110.05 L440.6,110.05 L440.4,110.05 L440.2,110.05 L440,110.05 L439.8,110.05 L439.6,110.05 L439.4,110.05 L439.2,110.05 L439,110.05 L438.8,110.05 L438.6,110.05 L438.4,110.05 L438.2,110.05 L438,110.05 L437.8,110.05 L437.6,110.05 L437.4,110.05 L437.2,110.05 L437,110.05 L436.8,110.05 L436.6,110.05 L436.4,110.05 L436.2,110.05 L436,110.05 L435.8,110.05 L435.6,110.05 L435.4,110.05 L435.2,110.05 L435,110.05 L434.8,110.05 L434.6,110.05 L434.4,110.05 L434.2,110.05 L434,110.05 L433.8,110.05 L433.6,110.05 L433.4,110.05 L433.2,110.05 L433,110.05 L432.8,110.05 L432.6,110.05 L432.4,110.05 L432.2,110.05 L432,110.05 L431.8,110.05 L431.6,110.05 L431.4,110.05 L431.2,110.05 L431,110.05 L430.8,110.05 L430.6,110.05 L430.4,110.05 L430.2,110.05 L430,110.05 L429.8,110.05 L429.6,110.05 L429.4,110.05 L429.2,110.05 L429,110.05 L428.8,110.05 L428.6,110.05 L428.4,110.05 L428.2,110.05 L428,110.05 L427.8,110.05 L427.6,110.05 L427.4,110.05 L427.2,110.05 L427,110.05 L426.8,110.05 L426.6,110.05 L426.4,110.05 L426.2,110.05 L426,110.05 L425.8,110.05 L425.6,110.05 L425.4,110.05 L425.2,110.05 L425,110.05 L424.8,110.05 L424.6,110.05 L424.4,110.05 L424.2,110.05 L424,110.05 L423.8,110.05 L423.6,110.05 L423.4,110.05 L423.2,110.05 L423,110.05 L422.8,110.05 L422.6,110.05 L422.4,110.05 L422.2,110.05 L422,110.05 L421.8,110.05 L421.6,110.05 L421.4,110.05 L421.2,110.05 L421,110.05 L420.8,110.05 L420.6,110.05 L420.4,110.05 L420.2,110.05 L420,110.05 L419.8,110.05 L419.6,110.05 L419.4,110.05 L419.2,110.05 L419,110.05 L418.8,110.05 L418.6,110.05 L418.4,110.05 L418.2,110.05 L418,110.05 L417.8,110.05 L417.6,110.05 L417.4,110.05 L417.2,110.05 L417,110.05 L416.8,110.05 L416.6,110.05 L416.4,110.05 L416.2,110.05 L416,110.05 L415.8,110.05 L415.6,110.05 L415.4,110.05 L415.2,110.05 L415,110.05 L414.8,110.05 L414.6,110.05 L414.4,110.05 L414.2,110.05 L414,110.05 L413.8,110.05 L413.6,110.05 L413.4,110.05 L413.2,110.05 L413,110.05 L412.8,110.05 L412.6,110.05 L412.4,110.05 L412.2,110.05 L412,110.05 L411.8,110.05 L411.6,110.05 L411.4,110.05 L411.2,110.05 L411,110.05 L410.8,110.05 L410.6,110.05 L410.4,110.05 L410.2,110.05 L410,110.05 L409.8,110.05 L409.6,110.05 L409.4,110.05 L409.2,110.05 L409,110.05 L408.8,110.05 L408.6,110.05 L408.4,110.05 L408.2,110.05 L408,110.05 L407.8,110.05 L407.6,110.05 L407.4,110.05 L407.2,110.05 L407,110.05 L406.8,110.05 L406.6,110.05 L406.4,110.05 L406.2,110.05 L406,110.05 L405.8,110.05 L405.6,110.05 L405.4,110.05 L405.2,110.05 L405,110.05 L404.8,110.05 L404.6,110.05 L404.4,110.05 L404.2,110.05 L404,110.05 L403.8,110.05 L403.6,110.05 L403.4,110.05 L403.2,110.05 L403,110.05 L402.8,110.05 L402.6,110.05 L402.4,110.05 L402.2,110.05 L402,110.05 L401.8,110.05 L401.6,110.05 L401.4,110.05 L401.2,110.05 L401,110.05 L400.8,110.05 L400.6,110.05 L400.4,97.75 L400.2,90.23 L400,82.72 L399.8,75.2 L399.6,74.95 L399.4,74.7 L399.2,74.44 L399,74.19 L398.8,73.94 L398.6,73.69 L398.4,73.96 L398.2,73.85 L398,73.69 L397.8,73.67 L397.6,73.42 L397.4,73.03 L397.2,73.58 L397,72.99 L396.8,73.28 L396.6,73.52 L396.4,73.61 L396.2,72.49 L396,73.09 L395.8,72 L395.6,71.77 L395.4,71.56 L395.2,71.96 L395,71.07 L394.8,71.09 L394.6,71.03 L394.4,70.81 L394.2,70.22 L394,70.22 L393.8,70.25 L393.6,70.5 L393.4,70.25 L393.2,70.69 L393,70.69 L392.8,70.69 L392.6,70.8 L392.4,70.8 L392.2,70.8 L392,70.67 L391.8,70.47 L391.6,70.68 L391.4,70.68 L391.2,70.68 L391,70.63 L390.8,70 L390.6,70.22 L390.4,70.38 L390.2,70.22 L390,70.22 L389.8,70.63 L389.6,70.63 L389.4,70.14 L389.2,71.03 L389,70.67 L388.8,71.2 L388.6,71.66 L388.4,71.81 L388.2,72.02 L388,72.06 L387.8,72.24 L387.6,71.78 L387.4,71.83 L387.2,72.22 L387,72.1 L386.8,72.95 L386.6,72.61 L386.4,72.87 L386.2,72.57 L386,73.36 L385.8,72.78 L385.6,72.66 L385.4,73.41 L385.2,73.41 L385,72.75 L384.8,73.6 L384.6,73.47 L384.4,72.99 L384.2,73.45 L384,72.8 L383.8,73.42 L383.6,72.81 L383.4,72.66 L383.2,73.28 L383,73.34 L382.8,73.53 L382.6,72.97 L382.4,73 L382.2,73.28 L382,73.06 L381.8,73.4 L381.6,72.62 L381.4,72.86 L381.2,72.57 L381,73.03 L380.8,73.45 L380.6,72.57 L380.4,72.74 L380.2,72.54 L380,72.68 L379.8,72.72 L379.6,72.83 L379.4,72.95 L379.2,110.05 L379,110.05 L378.8,110.05 L378.6,110.05 L378.4,110.05 L378.2,110.05 L378,110.05 L377.8,110.05 L377.6,110.05 L377.4,110.05 L377.2,110.05 L377,110.05 L376.8,110.05 L376.6,110.05 L376.4,110.05 L376.2,110.05 L376,110.05 L375.8,110.05 L375.6,110.05 L375.4,110.05 L375.2,110.05 L375,110.05 L374.8,110.05 L374.6,110.05 L374.4,110.05 L374.2,110.05 L374,110.05 L373.8,110.05 L373.6,110.05 L373.4,110.05 L373.2,110.05 L373,110.05 L372.8,110.05 L372.6,110.05 L372.4,110.05 L372.2,110.05 L372,110.05 L371.8,110.05 L371.6,110.05 L371.4,110.05 L371.2,110.05 L371,110.05 L370.8,110.05 L370.6,110.05 L370.4,93.65 L370.2,84.08 L370,78.07 L369.8,75.61 L369.6,73.15 L369.4,72.4 L369.2,71.66 L369,70.91 L368.8,70.17 L368.6,69.42 L368.4,68.72 L368.2,68.07 L368,67.41 L367.8,66.75 L367.6,66.1 L367.4,65.44 L367.2,64.79 L367,64.13 L366.8,60.99 L366.6,57.84 L366.4,54.7Z" fill="url(#gb1)" stroke="url(#gb1)" stroke-width="0.3" stroke-linejoin="round"/>
<rect x="365.65" y="6.4" width="132.45" height="110.8" fill="none" stroke="#2a2a2a" stroke-width="1"/>
<path d="M359.65,109.4 h6 M359.65,88.9 h6 M359.65,68.4 h6 M359.65,47.9 h6 M359.65,27.4 h6 M359.65,6.4 h6 M367.12,117.2 v6.3 M399.36,117.2 v6.3 M431.6,117.2 v6.3 M463.84,117.2 v6.3 M496.08,117.2 v6.3" stroke="#111" stroke-width="0.9" fill="none"/>
<g class="tb" text-anchor="end">
<text x="356.45" y="112.9">0.0</text>
<text x="356.45" y="92.4">0.5</text>
<text x="356.45" y="71.9">1.0</text>
<text x="356.45" y="51.4">1.5</text>
<text x="356.45" y="30.9">2.0</text>
<text x="356.45" y="10.2">2.5</text>
</g>
<g class="tb" text-anchor="middle">
<text x="366.72" y="136.4">-4</text>
<text x="398.96" y="136.4">-2</text>
<text x="431.8" y="136.4">0</text>
<text x="464.04" y="136.4">2</text>
<text x="496.28" y="136.4">4</text>
</g>
<text class="lb" x="431.9" y="153.3" text-anchor="middle">E-E<tspan dy="2.8" font-size="8">F</tspan><tspan dy="-2.8"> (eV)</tspan></text>
<text class="lb" transform="translate(332,62.5) rotate(-90)" text-anchor="middle">Conductance (2e<tspan dy="-6.1" font-size="6.9">2</tspan><tspan dy="6.1" dx="-0.4">/h)</tspan></text>
<rect x="396.7" y="19.8" width="10.1" height="6.9" fill="#f0f0f0"/>
<path d="M390.8,35.5 H397.7" stroke="#1a3cff" stroke-width="2.6"/><path d="M397.7,35.5 H405" stroke="#ff0000" stroke-width="2.6"/><path d="M405,35.5 H412" stroke="#80d040" stroke-width="2.6"/>
<g class="lg"><text x="420" y="25.8">2ZGNR</text><text x="420" y="37"><tspan font-style="italic">ch</tspan>-GNR</text>
<text x="408.2" y="52.5"><tspan font-style="italic">t</tspan> ON</text><text x="434" y="52.5"><tspan font-style="italic">t</tspan><tspan dx="1.9">'</tspan> OFF</text><text x="419.8" y="63.6"><tspan font-style="italic">t</tspan><tspan dx="1.9">''</tspan> OFF</text></g>
<path d="M552.5,27.3 H571.7 V110.2 H552.5 Z M571.7,68.3 H662.5 V110.2 H571.7 Z M662.5,27.3 H682.7 V110.2 H662.5 Z" fill="#f0f0f0"/>
<path d="M552.5,35.77 L552.7,35.77 L552.9,35.77 L553.1,35.77 L553.3,34.95 L553.5,34.95 L553.7,34.95 L553.9,34.95 L554.1,34.95 L554.3,34.95 L554.5,34.95 L554.7,34.95 L554.9,34.95 L555.1,34.95 L555.3,34.95 L555.5,34.95 L555.7,34.95 L555.9,34.95 L556.1,34.95 L556.3,51.35 L556.5,67.75 L556.7,67.75 L556.9,88.25 L557.1,108.75 L557.3,108.75 L557.5,108.75 L557.7,108.75 L557.9,108.75 L558.1,108.75 L558.3,108.75 L558.5,108.75 L558.7,108.75 L558.9,108.75 L559.1,108.75 L559.3,108.75 L559.5,108.75 L559.7,108.75 L559.9,108.75 L560.1,108.75 L560.3,108.75 L560.5,108.75 L560.7,108.75 L560.9,108.75 L561.1,108.75 L561.3,108.75 L561.5,108.75 L561.7,108.75 L561.9,108.75 L562.1,108.75 L562.3,108.75 L562.5,108.75 L562.7,108.75 L562.9,108.75 L563.1,41.1 L563.3,41.1 L563.5,41.1 L563.7,41.1 L563.9,41.1 L564.1,41.1 L564.3,41.1 L564.5,41.1 L564.7,68.37 L564.9,68.37 L565.1,69.36 L565.3,69.36 L565.5,69.18 L565.7,69.18 L565.9,69.18 L566.1,69.59 L566.3,69.59 L566.5,69.29 L566.7,69.29 L566.9,69.29 L567.1,68.37 L567.3,68.37 L567.5,68.37 L567.7,69.57 L567.9,69.57 L568.1,69.57 L568.3,68.37 L568.5,68.37 L568.7,68.93 L568.9,68.93 L569.1,68.93 L569.3,68.37 L569.5,68.37 L569.7,68.37 L569.9,68.37 L570.1,68.37 L570.3,68.37 L570.5,69.33 L570.7,69.33 L570.9,68.37 L571.1,68.37 L571.3,68.37 L571.5,68.37 L571.7,68.37 L571.9,68.37 L572.1,69.57 L572.3,69.57 L572.5,69.57 L572.7,68.37 L572.9,68.37 L573.1,68.37 L573.3,68.37 L573.5,68.37 L573.7,69.52 L573.9,69.52 L574.1,69.52 L574.3,69.31 L574.5,69.31 L574.7,69.31 L574.9,68.94 L575.1,68.94 L575.3,68.37 L575.5,68.37 L575.7,68.37 L575.9,68.37 L576.1,68.37 L576.3,68.37 L576.5,69.04 L576.7,69.04 L576.9,69.04 L577.1,69.28 L577.3,69.28 L577.5,69.23 L577.7,69.23 L577.9,69.23 L578.1,69.41 L578.3,69.41 L578.5,69.41 L578.7,68.37 L578.9,68.37 L579.1,68.37 L579.3,68.37 L579.5,68.37 L579.7,69.52 L579.9,69.52 L580.1,69.52 L580.3,68.37 L580.5,68.37 L580.7,68.37 L580.9,69.06 L581.1,69.06 L581.3,69.06 L581.5,69.17 L581.7,69.17 L581.9,69.42 L582.1,68.37 L582.3,68.37 L582.5,68.37 L582.7,68.37 L582.9,68.37 L583.1,68.37 L583.3,68.37 L583.5,68.37 L583.7,69.39 L583.9,69.39 L584.1,69.39 L584.3,69.39 L584.5,69.39 L584.7,69.39 L584.9,69.39 L585.1,100.55 L585.3,100.55 L585.5,100.55 L585.7,100.55 L585.9,100.55 L586.1,100.55 L586.3,100.55 L586.5,100.55 L586.7,100.55 L586.9,100.55 L587.1,100.55 L587.3,70.62 L587.5,70.62 L587.7,70.62 L587.9,70.62 L588.1,70.62 L588.3,70.62 L588.5,108.75 L588.7,108.75 L588.9,108.75 L589.1,108.75 L589.3,108.75 L589.5,108.75 L589.7,108.75 L589.9,108.75 L590.1,108.75 L590.3,108.75 L590.5,108.75 L590.7,108.75 L590.9,108.75 L591.1,108.75 L591.3,108.75 L591.5,108.75 L591.7,108.75 L591.9,108.75 L592.1,108.75 L592.3,108.75 L592.5,108.75 L592.7,108.75 L592.9,108.75 L593.1,108.75 L593.3,108.75 L593.5,108.75 L593.7,108.75 L593.9,108.75 L594.1,108.75 L594.3,108.75 L594.5,72.88 L594.7,72.88 L594.9,72.88 L595.1,72.88 L595.3,72.88 L595.5,72.88 L595.7,108.75 L595.9,108.75 L596.1,108.75 L596.3,108.75 L596.5,108.75 L596.7,108.75 L596.9,108.75 L597.1,108.75 L597.3,108.75 L597.5,108.75 L597.7,108.75 L597.9,108.75 L598.1,108.75 L598.3,108.75 L598.5,108.75 L598.7,108.75 L598.9,108.75 L599.1,108.75 L599.3,104.65 L599.5,104.65 L599.7,104.65 L599.9,104.65 L600.1,104.65 L600.3,104.65 L600.5,104.65 L600.7,104.65 L600.9,101.37 L601.1,101.37 L601.3,101.37 L601.5,101.37 L601.7,101.37 L601.9,101.37 L602.1,101.37 L602.3,101.37 L602.5,101.37 L602.7,101.37 L602.9,101.37 L603.1,101.37 L603.3,94.81 L603.5,94.81 L603.7,94.81 L603.9,94.81 L604.1,94.81 L604.3,94.81 L604.5,94.81 L604.7,94.81 L604.9,94.81 L605.1,94.81 L605.3,94.81 L605.5,94.81 L605.7,94.81 L605.9,94.81 L606.1,94.81 L606.3,94.81 L606.5,68.57 L606.7,68.57 L606.9,68.57 L607.1,68.57 L607.3,68.57 L607.5,68.57 L607.7,68.57 L607.9,68.57 L608.1,68.57 L608.3,68.57 L608.5,68.57 L608.7,68.57 L608.9,68.57 L609.1,68.57 L609.3,68.57 L609.5,90.3 L609.7,90.3 L609.9,90.3 L610.1,90.3 L610.3,90.3 L610.5,90.3 L610.7,90.3 L610.9,73.49 L611.1,73.49 L611.3,73.49 L611.5,73.49 L611.7,73.49 L611.9,73.49 L612.1,73.49 L612.3,83.74 L612.5,83.74 L612.7,83.74 L612.9,83.74 L613.1,83.74 L613.3,83.74 L613.5,83.74 L613.7,83.74 L613.9,83.74 L614.1,83.74 L614.3,83.74 L614.5,93.17 L614.7,93.17 L614.9,93.17 L615.1,93.17 L615.3,93.17 L615.5,93.17 L615.7,93.17 L615.9,71.85 L616.1,71.85 L616.3,71.85 L616.5,71.85 L616.7,71.85 L616.9,71.85 L617.1,71.85 L617.3,71.85 L617.5,71.85 L617.7,71.85 L617.9,71.85 L618.1,71.85 L618.3,85.38 L618.5,85.38 L618.7,85.38 L618.9,85.38 L619.1,85.38 L619.3,85.38 L619.5,85.38 L619.7,85.38 L619.9,85.38 L620.1,68.57 L620.3,68.57 L620.5,68.57 L620.7,68.57 L620.9,68.57 L621.1,68.57 L621.3,85.38 L621.5,85.38 L621.7,85.38 L621.9,85.38 L622.1,85.38 L622.3,85.38 L622.5,85.38 L622.7,85.38 L622.9,85.38 L623.1,85.38 L623.3,94.81 L623.5,94.81 L623.7,94.81 L623.9,94.81 L624.1,94.81 L624.3,94.81 L624.5,94.81 L624.7,94.81 L624.9,94.81 L625.1,94.81 L625.3,94.81 L625.5,91.12 L625.7,91.12 L625.9,91.12 L626.1,91.12 L626.3,91.12 L626.5,91.12 L626.7,91.12 L626.9,91.12 L627.1,96.04 L627.3,96.04 L627.5,96.04 L627.7,96.04 L627.9,96.04 L628.1,96.04 L628.3,74.31 L628.5,74.31 L628.7,74.31 L628.9,74.31 L629.1,74.31 L629.3,74.31 L629.5,108.75 L629.7,108.75 L629.9,108.75 L630.1,108.75 L630.3,108.75 L630.5,108.75 L630.7,108.75 L630.9,108.75 L631.1,108.75 L631.3,108.75 L631.5,108.75 L631.7,108.75 L631.9,108.75 L632.1,108.75 L632.3,108.75 L632.5,108.75 L632.7,108.75 L632.9,108.75 L633.1,108.75 L633.3,108.75 L633.5,108.75 L633.7,108.75 L633.9,108.75 L634.1,108.75 L634.3,70.62 L634.5,70.62 L634.7,70.62 L634.9,70.62 L635.1,70.62 L635.3,70.62 L635.5,108.75 L635.7,108.75 L635.9,108.75 L636.1,108.75 L636.3,108.75 L636.5,108.75 L636.7,108.75 L636.9,108.75 L637.1,108.75 L637.3,108.75 L637.5,108.75 L637.7,108.75 L637.9,108.75 L638.1,108.75 L638.3,108.75 L638.5,108.75 L638.7,108.75 L638.9,108.75 L639.1,108.75 L639.3,108.75 L639.5,108.75 L639.7,108.75 L639.9,108.75 L640.1,108.75 L640.3,108.75 L640.5,108.75 L640.7,108.75 L640.9,108.75 L641.1,108.75 L641.3,108.75 L641.5,108.75 L641.7,108.75 L641.9,108.75 L642.1,108.75 L642.3,108.75 L642.5,108.75 L642.7,108.75 L642.9,108.75 L643.1,108.75 L643.3,108.75 L643.5,103.83 L643.7,103.83 L643.9,103.83 L644.1,103.83 L644.3,103.83 L644.5,96.45 L644.7,96.45 L644.9,96.45 L645.1,80.05 L645.3,80.05 L645.5,68.37 L645.7,68.37 L645.9,68.37 L646.1,68.37 L646.3,68.37 L646.5,68.37 L646.7,68.37 L646.9,68.99 L647.1,68.99 L647.3,68.99 L647.5,69.02 L647.7,69.02 L647.9,69.1 L648.1,69.1 L648.3,69.1 L648.5,68.37 L648.7,68.37 L648.9,68.37 L649.1,69.12 L649.3,69.12 L649.5,69.12 L649.7,69.56 L649.9,69.56 L650.1,69.09 L650.3,69.09 L650.5,69.09 L650.7,69.04 L650.9,69.04 L651.1,69.04 L651.3,68.37 L651.5,68.37 L651.7,68.37 L651.9,69.52 L652.1,69.52 L652.3,68.37 L652.5,68.37 L652.7,68.37 L652.9,69.38 L653.1,69.38 L653.3,69.38 L653.5,68.37 L653.7,68.37 L653.9,68.37 L654.1,69.57 L654.3,69.57 L654.5,69.13 L654.7,69.13 L654.9,69.13 L655.1,68.37 L655.3,68.37 L655.5,68.37 L655.7,68.37 L655.9,68.37 L656.1,68.37 L656.3,68.37 L656.5,68.37 L656.7,69.48 L656.9,69.48 L657.1,69.48 L657.3,68.37 L657.5,68.37 L657.7,68.37 L657.9,69.19 L658.1,69.19 L658.3,69.19 L658.5,69.16 L658.7,69.16 L658.9,69.22 L659.1,69.22 L659.3,69.22 L659.5,69.25 L659.7,69.25 L659.9,69.25 L660.1,69.28 L660.3,69.28 L660.5,69.28 L660.7,69.57 L660.9,69.57 L661.1,68.94 L661.3,68.94 L661.5,68.94 L661.7,68.37 L661.9,68.37 L662.1,68.37 L662.3,68.37 L662.5,68.37 L662.7,68.37 L662.9,69.06 L663.1,69.06 L663.3,68.37 L663.5,68.37 L663.7,68.37 L663.9,68.37 L664.1,68.37 L664.3,68.37 L664.5,69.21 L664.7,69.21 L664.9,69.21 L665.1,69.34 L665.3,69.34 L665.5,69.24 L665.7,69.24 L665.9,69.24 L666.1,69.14 L666.3,69.14 L666.5,69.14 L666.7,68.99 L666.9,68.99 L667.1,68.99 L667.3,69.22 L667.5,69.22 L667.7,69.01 L667.9,69.01 L668.1,69.01 L668.3,69.03 L668.5,69.03 L668.7,69.03 L668.9,68.37 L669.1,68.37 L669.3,68.37 L669.5,68.37 L669.7,63.65 L669.9,63.65 L670.1,63.65 L670.3,63.65 L670.5,63.65 L670.7,108.75 L670.9,108.75 L671.1,108.75 L671.3,108.75 L671.5,108.75 L671.7,108.75 L671.9,108.75 L672.1,108.75 L672.3,108.75 L672.5,108.75 L672.7,108.75 L672.9,108.75 L673.1,108.75 L673.3,108.75 L673.5,108.75 L673.7,108.75 L673.9,108.75 L674.1,108.75 L674.3,108.75 L674.5,108.75 L674.7,108.75 L674.9,108.75 L675.1,108.75 L675.3,108.75 L675.5,108.75 L675.7,108.75 L675.9,108.75 L676.1,108.75 L676.3,108.75 L676.5,108.75 L676.7,108.75 L676.9,108.75 L677.1,108.75 L677.3,31.67 L677.5,31.67 L677.7,31.67 L677.9,31.67 L678.1,31.67 L678.3,31.67 L678.5,31.67 L678.7,31.67 L678.9,31.67 L679.1,34.95 L679.3,34.95 L679.5,34.95 L679.7,34.95 L679.9,34.95 L680.1,34.95 L680.3,34.95 L680.5,37.41 L680.7,37.41 L680.9,37.41 L681.1,37.41 L681.3,37.41 L681.5,37.41 L681.7,37.41 L681.9,37.41 L682.1,37.41 L682.3,37.41 L682.5,37.41 L682.7,37.41 L682.7,65.21 L682.5,65.72 L682.3,66.23 L682.1,66.74 L681.9,67.26 L681.7,67.77 L681.5,68.28 L681.3,68.79 L681.1,69.2 L680.9,69.49 L680.7,69.78 L680.5,70.07 L680.3,70.37 L680.1,70.66 L679.9,70.95 L679.7,71.78 L679.5,73.15 L679.3,74.52 L679.1,78.79 L678.9,85.96 L678.7,94.67 L678.5,104.92 L678.3,110.05 L678.1,110.05 L677.9,110.05 L677.7,110.05 L677.5,110.05 L677.3,110.05 L677.1,110.05 L676.9,110.05 L676.7,110.05 L676.5,110.05 L676.3,110.05 L676.1,110.05 L675.9,110.05 L675.7,110.05 L675.5,110.05 L675.3,110.05 L675.1,110.05 L674.9,110.05 L674.7,110.05 L674.5,110.05 L674.3,110.05 L674.1,110.05 L673.9,110.05 L673.7,110.05 L673.5,110.05 L673.3,110.05 L673.1,110.05 L672.9,110.05 L672.7,110.05 L672.5,110.05 L672.3,110.05 L672.1,110.05 L671.9,110.05 L671.7,110.05 L671.5,110.05 L671.3,110.05 L671.1,110.05 L670.9,110.05 L670.7,110.05 L670.5,110.05 L670.3,110.05 L670.1,110.05 L669.9,110.05 L669.7,110.05 L669.5,73.36 L669.3,73.35 L669.1,73.81 L668.9,73.12 L668.7,73.2 L668.5,73.05 L668.3,73.2 L668.1,73.39 L667.9,73.14 L667.7,73.22 L667.5,73.02 L667.3,73.61 L667.1,73.05 L666.9,73.06 L666.7,73.08 L666.5,73.28 L666.3,72.82 L666.1,72.92 L665.9,73.57 L665.7,73.21 L665.5,73.21 L665.3,72.77 L665.1,72.75 L664.9,73.02 L664.7,72.84 L664.5,72.86 L664.3,73.34 L664.1,72.86 L663.9,72.94 L663.7,73.03 L663.5,73.32 L663.3,72.87 L663.1,73.01 L662.9,72.76 L662.7,72.94 L662.5,72.57 L662.3,72.82 L662.1,72.37 L661.9,72.73 L661.7,72 L661.5,71.77 L661.3,71.25 L661.1,71.66 L660.9,71.04 L660.7,70.87 L660.5,70.79 L660.3,70.76 L660.1,70.58 L659.9,70.55 L659.7,70.55 L659.5,70.55 L659.3,70.52 L659.1,70.52 L658.9,70.52 L658.7,70.46 L658.5,70.46 L658.3,70.49 L658.1,70.49 L657.9,70.6 L657.7,70.36 L657.5,70.2 L657.3,70.07 L657.1,70.78 L656.9,70.78 L656.7,70.78 L656.5,70.55 L656.3,70.29 L656.1,70.4 L655.9,70.22 L655.7,69.97 L655.5,70.21 L655.3,70.24 L655.1,69.73 L654.9,70.43 L654.7,70.43 L654.5,70.82 L654.3,71.2 L654.1,70.89 L653.9,71.81 L653.7,71.75 L653.5,72.31 L653.3,71.8 L653.1,72.12 L652.9,71.97 L652.7,72.35 L652.5,73.1 L652.3,72.57 L652.1,73.07 L651.9,73.61 L651.7,72.74 L651.5,73.59 L651.3,73.23 L651.1,73.19 L650.9,72.83 L650.7,73.06 L650.5,73.41 L650.3,73.24 L650.1,73.12 L649.9,72.67 L649.7,73.59 L649.5,73.48 L649.3,72.66 L649.1,72.96 L648.9,73.5 L648.7,73.57 L648.5,73.47 L648.3,73.33 L648.1,73.33 L647.9,73.11 L647.7,72.73 L647.5,73.31 L647.3,72.74 L647.1,73.04 L646.9,77.41 L646.7,85.45 L646.5,93.65 L646.3,101.85 L646.1,110.05 L645.9,110.05 L645.7,110.05 L645.5,110.05 L645.3,110.05 L645.1,110.05 L644.9,110.05 L644.7,110.05 L644.5,110.05 L644.3,110.05 L644.1,110.05 L643.9,110.05 L643.7,110.05 L643.5,110.05 L643.3,110.05 L643.1,110.05 L642.9,110.05 L642.7,110.05 L642.5,110.05 L642.3,110.05 L642.1,110.05 L641.9,110.05 L641.7,110.05 L641.5,110.05 L641.3,110.05 L641.1,110.05 L640.9,110.05 L640.7,110.05 L640.5,110.05 L640.3,110.05 L640.1,110.05 L639.9,110.05 L639.7,110.05 L639.5,110.05 L639.3,110.05 L639.1,110.05 L638.9,110.05 L638.7,110.05 L638.5,110.05 L638.3,110.05 L638.1,110.05 L637.9,110.05 L637.7,110.05 L637.5,110.05 L637.3,110.05 L637.1,110.05 L636.9,110.05 L636.7,110.05 L636.5,110.05 L636.3,110.05 L636.1,110.05 L635.9,110.05 L635.7,110.05 L635.5,110.05 L635.3,110.05 L635.1,110.05 L634.9,110.05 L634.7,110.05 L634.5,110.05 L634.3,110.05 L634.1,110.05 L633.9,110.05 L633.7,110.05 L633.5,110.05 L633.3,110.05 L633.1,110.05 L632.9,110.05 L632.7,110.05 L632.5,110.05 L632.3,110.05 L632.1,110.05 L631.9,110.05 L631.7,110.05 L631.5,110.05 L631.3,110.05 L631.1,110.05 L630.9,110.05 L630.7,110.05 L630.5,110.05 L630.3,110.05 L630.1,110.05 L629.9,110.05 L629.7,110.05 L629.5,110.05 L629.3,110.05 L629.1,110.05 L628.9,110.05 L628.7,110.05 L628.5,110.05 L628.3,110.05 L628.1,110.05 L627.9,110.05 L627.7,110.05 L627.5,110.05 L627.3,110.05 L627.1,110.05 L626.9,110.05 L626.7,110.05 L626.5,110.05 L626.3,110.05 L626.1,110.05 L625.9,110.05 L625.7,110.05 L625.5,110.05 L625.3,110.05 L625.1,110.05 L624.9,110.05 L624.7,110.05 L624.5,110.05 L624.3,110.05 L624.1,110.05 L623.9,110.05 L623.7,110.05 L623.5,110.05 L623.3,110.05 L623.1,110.05 L622.9,110.05 L622.7,110.05 L622.5,110.05 L622.3,110.05 L622.1,110.05 L621.9,110.05 L621.7,110.05 L621.5,110.05 L621.3,110.05 L621.1,110.05 L620.9,110.05 L620.7,110.05 L620.5,110.05 L620.3,110.05 L620.1,110.05 L619.9,110.05 L619.7,110.05 L619.5,110.05 L619.3,110.05 L619.1,110.05 L618.9,110.05 L618.7,110.05 L618.5,110.05 L618.3,110.05 L618.1,110.05 L617.9,110.05 L617.7,110.05 L617.5,110.05 L617.3,110.05 L617.1,110.05 L616.9,110.05 L616.7,110.05 L616.5,110.05 L616.3,110.05 L616.1,110.05 L615.9,110.05 L615.7,110.05 L615.5,110.05 L615.3,110.05 L615.1,110.05 L614.9,110.05 L614.7,110.05 L614.5,110.05 L614.3,110.05 L614.1,110.05 L613.9,110.05 L613.7,110.05 L613.5,110.05 L613.3,110.05 L613.1,110.05 L612.9,110.05 L612.7,110.05 L612.5,110.05 L612.3,110.05 L612.1,110.05 L611.9,110.05 L611.7,110.05 L611.5,110.05 L611.3,110.05 L611.1,110.05 L610.9,110.05 L610.7,110.05 L610.5,110.05 L610.3,110.05 L610.1,110.05 L609.9,110.05 L609.7,110.05 L609.5,110.05 L609.3,110.05 L609.1,110.05 L608.9,110.05 L608.7,110.05 L608.5,110.05 L608.3,110.05 L608.1,110.05 L607.9,110.05 L607.7,110.05 L607.5,110.05 L607.3,110.05 L607.1,110.05 L606.9,110.05 L606.7,110.05 L606.5,110.05 L606.3,110.05 L606.1,110.05 L605.9,110.05 L605.7,110.05 L605.5,110.05 L605.3,110.05 L605.1,110.05 L604.9,110.05 L604.7,110.05 L604.5,110.05 L604.3,110.05 L604.1,110.05 L603.9,110.05 L603.7,110.05 L603.5,110.05 L603.3,110.05 L603.1,110.05 L602.9,110.05 L602.7,110.05 L602.5,110.05 L602.3,110.05 L602.1,110.05 L601.9,110.05 L601.7,110.05 L601.5,110.05 L601.3,110.05 L601.1,110.05 L600.9,110.05 L600.7,110.05 L600.5,110.05 L600.3,110.05 L600.1,110.05 L599.9,110.05 L599.7,110.05 L599.5,110.05 L599.3,110.05 L599.1,110.05 L598.9,110.05 L598.7,110.05 L598.5,110.05 L598.3,110.05 L598.1,110.05 L597.9,110.05 L597.7,110.05 L597.5,110.05 L597.3,110.05 L597.1,110.05 L596.9,110.05 L596.7,110.05 L596.5,110.05 L596.3,110.05 L596.1,110.05 L595.9,110.05 L595.7,110.05 L595.5,110.05 L595.3,110.05 L595.1,110.05 L594.9,110.05 L594.7,110.05 L594.5,110.05 L594.3,110.05 L594.1,110.05 L593.9,110.05 L593.7,110.05 L593.5,110.05 L593.3,110.05 L593.1,110.05 L592.9,110.05 L592.7,110.05 L592.5,110.05 L592.3,110.05 L592.1,110.05 L591.9,110.05 L591.7,110.05 L591.5,110.05 L591.3,110.05 L591.1,110.05 L590.9,110.05 L590.7,110.05 L590.5,110.05 L590.3,110.05 L590.1,110.05 L589.9,110.05 L589.7,110.05 L589.5,110.05 L589.3,110.05 L589.1,110.05 L588.9,110.05 L588.7,110.05 L588.5,110.05 L588.3,110.05 L588.1,110.05 L587.9,110.05 L587.7,110.05 L587.5,110.05 L587.3,110.05 L587.1,110.05 L586.9,110.05 L586.7,110.05 L586.5,110.05 L586.3,110.05 L586.1,110.05 L585.9,110.05 L585.7,110.05 L585.5,110.05 L585.3,110.05 L585.1,110.05 L584.9,110.05 L584.7,110.05 L584.5,110.05 L584.3,110.05 L584.1,110.05 L583.9,110.05 L583.7,110.05 L583.5,110.05 L583.3,110.05 L583.1,110.05 L582.9,110.05 L582.7,110.05 L582.5,103.97 L582.3,91.81 L582.1,79.64 L581.9,73.95 L581.7,73.08 L581.5,73.95 L581.3,73.11 L581.1,73.14 L580.9,73.17 L580.7,73.77 L580.5,73.08 L580.3,73.04 L580.1,72.92 L579.9,72.65 L579.7,71.77 L579.5,71.5 L579.3,71.44 L579.1,71.76 L578.9,70.78 L578.7,71.32 L578.5,71.22 L578.3,71.03 L578.1,70.71 L577.9,70.53 L577.7,70.53 L577.5,70.67 L577.3,70.58 L577.1,70.58 L576.9,70.67 L576.7,70.34 L576.5,70.63 L576.3,70 L576.1,70.22 L575.9,70.38 L575.7,70.22 L575.5,69.88 L575.3,70.39 L575.1,70.36 L574.9,70.24 L574.7,70.69 L574.5,70.61 L574.3,70.61 L574.1,70.82 L573.9,70.82 L573.7,70.87 L573.5,70.91 L573.3,71.2 L573.1,70.84 L572.9,71 L572.7,71.5 L572.5,71.49 L572.3,72.33 L572.1,71.99 L571.9,72.25 L571.7,71.96 L571.5,72.74 L571.3,72.29 L571.1,72.31 L570.9,73.18 L570.7,73.31 L570.5,72.78 L570.3,73.64 L570.1,73.52 L569.9,73.03 L569.7,73.51 L569.5,72.86 L569.3,73.48 L569.1,72.89 L568.9,72.74 L568.7,73.37 L568.5,73.43 L568.3,73.63 L568.1,73.08 L567.9,73.11 L567.7,73.4 L567.5,73.18 L567.3,73.53 L567.1,72.76 L566.9,73 L566.7,72.71 L566.5,73.18 L566.3,73.61 L566.1,72.73 L565.9,72.91 L565.7,72.71 L565.5,72.86 L565.3,72.91 L565.1,73.03 L564.9,73.15 L564.7,110.05 L564.5,110.05 L564.3,110.05 L564.1,110.05 L563.9,110.05 L563.7,110.05 L563.5,110.05 L563.3,110.05 L563.1,110.05 L562.9,110.05 L562.7,110.05 L562.5,110.05 L562.3,110.05 L562.1,110.05 L561.9,110.05 L561.7,110.05 L561.5,110.05 L561.3,110.05 L561.1,110.05 L560.9,110.05 L560.7,110.05 L560.5,110.05 L560.3,110.05 L560.1,110.05 L559.9,110.05 L559.7,110.05 L559.5,110.05 L559.3,110.05 L559.1,110.05 L558.9,110.05 L558.7,110.05 L558.5,110.05 L558.3,110.05 L558.1,110.05 L557.9,110.05 L557.7,110.05 L557.5,110.05 L557.3,110.05 L557.1,110.05 L556.9,110.05 L556.7,110.05 L556.5,110.05 L556.3,110.05 L556.1,110.05 L555.9,110.05 L555.7,96.38 L555.5,84.77 L555.3,75.2 L555.1,73.56 L554.9,71.92 L554.7,70.94 L554.5,70.63 L554.3,70.31 L554.1,70 L553.9,69.68 L553.7,69.37 L553.5,69.05 L553.3,68.23 L553.1,67.41 L552.9,66.59 L552.7,65.77 L552.5,64.95Z" fill="url(#gb2)" stroke="url(#gb2)" stroke-width="0.3" stroke-linejoin="round"/>
<rect x="551.5" y="6.4" width="132.5" height="110.7" fill="none" stroke="#2a2a2a" stroke-width="1"/>
<path d="M545.5,109.4 h6 M545.5,88.9 h6 M545.5,68.4 h6 M545.5,47.9 h6 M545.5,27.4 h6 M545.5,6.4 h6 M552.82,117.1 v6.3 M585.06,117.1 v6.3 M617.3,117.1 v6.3 M649.54,117.1 v6.3 M681.78,117.1 v6.3" stroke="#111" stroke-width="0.9" fill="none"/>
<g class="tb" text-anchor="end">
<text x="542.3" y="112.9">0.0</text>
<text x="542.3" y="92.4">0.5</text>
<text x="542.3" y="71.9">1.0</text>
<text x="542.3" y="51.4">1.5</text>
<text x="542.3" y="30.9">2.0</text>
<text x="542.3" y="10.2">2.5</text>
</g>
<g class="tb" text-anchor="middle">
<text x="552.42" y="136.3">-4</text>
<text x="584.66" y="136.3">-2</text>
<text x="617.5" y="136.3">0</text>
<text x="649.74" y="136.3">2</text>
<text x="681.98" y="136.3">4</text>
</g>
<text class="lb" x="617.6" y="153.2" text-anchor="middle">E-E<tspan dy="2.8" font-size="8">F</tspan><tspan dy="-2.8"> (eV)</tspan></text>
<text class="lb" transform="translate(517.6,62.45) rotate(-90)" text-anchor="middle">Conductance (2e<tspan dy="-6.1" font-size="6.9">2</tspan><tspan dy="6.1" dx="-0.4">/h)</tspan></text>
<g class="lg"><text x="602.6" y="29.6"><tspan font-style="italic">t</tspan> ON</text><text x="602.6" y="40.6" style="fill:#ff1a1a;stroke:#ff1a1a"><tspan font-style="italic">t</tspan><tspan dx="1.9">'</tspan> ON</text><text x="602.6" y="51.5"><tspan font-style="italic">t</tspan><tspan dx="1.9">''</tspan> OFF</text></g>
<path d="M366.4,223.5 H370 V265.5 H366.4 Z M370,182.4 H399.3 V265.5 H370 Z M399.3,223.5 H424.3 V265.5 H399.3 Z M424.3,182.4 H437.7 V265.5 H424.3 Z M437.7,223.5 H462.7 V265.5 H437.7 Z M462.7,182.4 H492 V265.5 H462.7 Z M492,223.5 H496.6 V265.5 H492 Z" fill="#f0f0f0"/>
<path d="M368,222.95 L368.2,222.95 L368.4,222.95 L368.6,222.95 L368.8,222.95 L369,222.95 L369.2,222.95 L369.4,222.95 L369.6,222.95 L369.8,222.95 L370,222.95 L370.2,222.95 L370.4,214.73 L370.6,208.57 L370.8,202.4 L371,198.95 L371.2,195.5 L371.4,193.77 L371.6,193.77 L371.8,193.77 L372,193.77 L372.2,193.77 L372.4,193.77 L372.6,193.77 L372.8,193.77 L373,193.77 L373.2,193.77 L373.4,193.77 L373.6,193.77 L373.8,193.77 L374,193.77 L374.2,193.77 L374.4,193.77 L374.6,193.77 L374.8,193.77 L375,195 L375.2,197.47 L375.4,199.93 L375.6,202.4 L375.8,205.51 L376,208.61 L376.2,211.72 L376.4,214.82 L376.6,219.66 L376.8,264.05 L377,264.05 L377.2,264.05 L377.4,264.05 L377.6,264.05 L377.8,264.05 L378,264.05 L378.2,264.05 L378.4,264.05 L378.6,264.05 L378.8,264.05 L379,264.05 L379.2,264.05 L379.4,264.05 L379.6,264.05 L379.8,264.05 L380,264.05 L380.2,264.05 L380.4,264.05 L380.6,264.05 L380.8,264.05 L381,264.05 L381.2,264.05 L381.4,222.95 L381.6,222.95 L381.8,222.95 L382,222.95 L382.2,222.95 L382.4,222.95 L382.6,222.95 L382.8,222.95 L383,222.95 L383.2,222.95 L383.4,222.95 L383.6,222.95 L383.8,222.95 L384,222.95 L384.2,222.95 L384.4,222.95 L384.6,222.95 L384.8,222.95 L385,222.95 L385.2,222.95 L385.4,222.95 L385.6,222.95 L385.8,222.95 L386,222.95 L386.2,222.95 L386.4,222.95 L386.6,222.95 L386.8,222.95 L387,222.95 L387.2,222.95 L387.4,222.95 L387.6,222.95 L387.8,222.95 L388,222.95 L388.2,222.95 L388.4,222.95 L388.6,222.95 L388.8,222.95 L389,222.95 L389.2,222.95 L389.4,222.95 L389.6,222.95 L389.8,222.95 L390,222.95 L390.2,222.95 L390.4,222.95 L390.6,222.95 L390.8,222.95 L391,222.95 L391.2,222.95 L391.4,222.95 L391.6,222.95 L391.8,222.95 L392,222.95 L392.2,222.95 L392.4,222.95 L392.6,222.95 L392.8,222.95 L393,222.95 L393.2,222.95 L393.4,222.95 L393.6,222.95 L393.8,222.95 L394,222.95 L394.2,216.37 L394.4,201.85 L394.6,194.59 L394.8,194.59 L395,194.59 L395.2,194.59 L395.4,194.59 L395.6,194.59 L395.8,194.59 L396,198.5 L396.2,203.43 L396.4,205.48 L396.6,207.19 L396.8,208.56 L397,209.93 L397.2,211.3 L397.4,212.67 L397.6,214.04 L397.8,215.28 L398,216.37 L398.2,218.57 L398.4,220.76 L398.6,222.95 L398.8,222.95 L399,222.95 L399.2,222.95 L399.4,222.95 L399.6,222.95 L399.8,222.95 L400,222.95 L400.2,222.95 L400.4,222.95 L400.6,222.95 L400.8,222.95 L401,222.95 L401.2,222.95 L401.4,222.95 L401.6,222.95 L401.8,222.95 L402,222.95 L402.2,222.95 L402.4,222.95 L402.6,222.95 L402.8,222.95 L403,222.95 L403.2,222.95 L403.4,222.95 L403.6,222.95 L403.8,222.95 L404,222.95 L404.2,222.95 L404.4,222.95 L404.6,222.95 L404.8,222.95 L405,222.95 L405.2,222.95 L405.4,222.95 L405.6,222.95 L405.8,222.95 L406,222.95 L406.2,222.95 L406.4,222.95 L406.6,222.95 L406.8,222.95 L407,222.95 L407.2,222.95 L407.4,222.95 L407.6,222.95 L407.8,222.95 L408,222.95 L408.2,222.95 L408.4,222.95 L408.6,223.63 L408.8,224.32 L409,225 L409.2,225.69 L409.4,226.37 L409.6,227.06 L409.8,229.8 L410,232.54 L410.2,235.28 L410.4,238.02 L410.6,244.53 L410.8,254.8 L411,261.99 L411.2,263.02 L411.4,260.97 L411.6,259.94 L411.8,259.94 L412,259.94 L412.2,259.94 L412.4,259.94 L412.6,259.94 L412.8,264.05 L413,264.05 L413.2,264.05 L413.4,264.05 L413.6,264.05 L413.8,264.05 L414,264.05 L414.2,264.05 L414.4,264.05 L414.6,264.05 L414.8,264.05 L415,256.65 L415.2,256.65 L415.4,256.65 L415.6,256.65 L415.8,256.65 L416,256.65 L416.2,256.65 L416.4,264.05 L416.6,264.05 L416.8,264.05 L417,264.05 L417.2,264.05 L417.4,264.05 L417.6,264.05 L417.8,264.05 L418,264.05 L418.2,264.05 L418.4,264.05 L418.6,264.05 L418.8,264.05 L419,257.88 L419.2,257.88 L419.4,257.88 L419.6,257.88 L419.8,257.88 L420,257.88 L420.2,257.88 L420.4,253.36 L420.6,253.36 L420.8,253.36 L421,253.36 L421.2,253.36 L421.4,253.36 L421.6,253.36 L421.8,253.36 L422,253.36 L422.2,253.36 L422.4,243.5 L422.6,243.5 L422.8,243.5 L423,243.5 L423.2,243.5 L423.4,243.5 L423.6,243.5 L423.8,243.5 L424,243.5 L424.2,243.5 L424.4,243.5 L424.6,243.5 L424.8,243.5 L425,223.77 L425.2,223.77 L425.4,223.77 L425.6,223.77 L425.8,241.44 L426,241.44 L426.2,241.44 L426.4,241.44 L426.6,241.44 L426.8,241.44 L427,229.12 L427.2,229.11 L427.4,229.11 L427.6,229.11 L427.8,229.11 L428,239.39 L428.2,239.39 L428.4,239.39 L428.6,239.39 L428.8,239.39 L429,239.39 L429.2,231.17 L429.4,231.17 L429.6,231.17 L429.8,231.17 L430,231.17 L430.2,241.44 L430.4,241.44 L430.6,241.44 L430.8,241.44 L431,235.28 L431.2,235.28 L431.4,235.28 L431.6,235.28 L431.8,235.28 L432,245.55 L432.2,245.55 L432.4,245.55 L432.6,245.55 L432.8,245.55 L433,245.55 L433.2,245.55 L433.4,245.55 L433.6,245.55 L433.8,245.55 L434,247.61 L434.2,247.61 L434.4,247.61 L434.6,247.61 L434.8,247.61 L435,247.61 L435.2,247.61 L435.4,247.61 L435.6,247.61 L435.8,247.61 L436,229.12 L436.2,229.11 L436.4,229.11 L436.6,229.11 L436.8,229.11 L437,245.55 L437.2,245.55 L437.4,245.55 L437.6,245.55 L437.8,245.55 L438,245.55 L438.2,245.55 L438.4,245.55 L438.6,245.55 L438.8,245.55 L439,245.55 L439.2,223.77 L439.4,223.77 L439.6,223.77 L439.8,223.77 L440,223.77 L440.2,223.77 L440.4,243.5 L440.6,243.5 L440.8,243.5 L441,243.5 L441.2,243.5 L441.4,243.5 L441.6,264.05 L441.8,264.05 L442,264.05 L442.2,264.05 L442.4,264.05 L442.6,264.05 L442.8,264.05 L443,264.05 L443.2,264.05 L443.4,264.05 L443.6,264.05 L443.8,264.05 L444,264.05 L444.2,264.05 L444.4,264.05 L444.6,264.05 L444.8,264.05 L445,264.05 L445.2,258.3 L445.4,258.3 L445.6,258.3 L445.8,258.3 L446,258.3 L446.2,258.3 L446.4,258.3 L446.6,264.05 L446.8,264.05 L447,264.05 L447.2,264.05 L447.4,264.05 L447.6,264.05 L447.8,264.05 L448,264.05 L448.2,264.05 L448.4,264.05 L448.6,264.05 L448.8,264.05 L449,264.05 L449.2,264.05 L449.4,264.05 L449.6,264.05 L449.8,264.05 L450,264.05 L450.2,222.95 L450.4,222.95 L450.6,222.95 L450.8,222.95 L451,222.95 L451.2,222.95 L451.4,222.95 L451.6,222.95 L451.8,222.95 L452,222.95 L452.2,222.95 L452.4,222.95 L452.6,222.95 L452.8,222.95 L453,222.95 L453.2,222.95 L453.4,222.95 L453.6,222.95 L453.8,222.95 L454,222.95 L454.2,222.95 L454.4,222.95 L454.6,222.95 L454.8,222.95 L455,222.95 L455.2,222.95 L455.4,222.95 L455.6,222.95 L455.8,222.95 L456,222.95 L456.2,222.95 L456.4,222.95 L456.6,222.95 L456.8,222.95 L457,222.95 L457.2,222.95 L457.4,222.95 L457.6,222.95 L457.8,222.95 L458,222.95 L458.2,222.95 L458.4,222.95 L458.6,222.95 L458.8,222.95 L459,222.95 L459.2,222.95 L459.4,222.95 L459.6,222.95 L459.8,222.95 L460,222.95 L460.2,222.95 L460.4,222.95 L460.6,222.95 L460.8,222.95 L461,222.95 L461.2,222.95 L461.4,222.95 L461.6,222.95 L461.8,222.95 L462,222.95 L462.2,222.95 L462.4,222.95 L462.6,222.95 L462.8,222.95 L463,222.95 L463.2,222.95 L463.4,222.95 L463.6,222.95 L463.8,222.95 L464,208.15 L464.2,208.15 L464.4,208.15 L464.6,208.15 L464.8,208.15 L465,208.15 L465.2,208.15 L465.4,208.15 L465.6,208.15 L465.8,201.58 L466,201.58 L466.2,201.58 L466.4,201.58 L466.6,201.58 L466.8,201.58 L467,201.58 L467.2,201.58 L467.4,201.58 L467.6,201.58 L467.8,222.95 L468,222.95 L468.2,222.95 L468.4,222.95 L468.6,222.95 L468.8,222.95 L469,222.95 L469.2,222.95 L469.4,222.95 L469.6,222.95 L469.8,222.95 L470,222.95 L470.2,222.95 L470.4,222.95 L470.6,222.95 L470.8,222.95 L471,222.95 L471.2,222.95 L471.4,222.95 L471.6,222.95 L471.8,222.95 L472,222.95 L472.2,222.95 L472.4,222.95 L472.6,222.95 L472.8,222.95 L473,222.95 L473.2,222.95 L473.4,222.95 L473.6,222.95 L473.8,222.95 L474,222.95 L474.2,222.95 L474.4,222.95 L474.6,222.95 L474.8,222.95 L475,222.95 L475.2,222.95 L475.4,222.95 L475.6,222.95 L475.8,222.95 L476,222.95 L476.2,222.95 L476.4,222.95 L476.6,222.95 L476.8,222.95 L477,222.95 L477.2,222.95 L477.4,222.95 L477.6,222.95 L477.8,222.95 L478,222.95 L478.2,222.95 L478.4,222.95 L478.6,222.95 L478.8,222.95 L479,222.95 L479.2,222.95 L479.4,222.95 L479.6,222.95 L479.8,222.95 L480,222.95 L480.2,222.95 L480.4,222.95 L480.6,222.95 L480.8,222.95 L481,222.95 L481.2,222.95 L481.4,222.95 L481.6,222.95 L481.8,222.95 L482,222.95 L482.2,222.95 L482.4,222.95 L482.6,222.95 L482.8,222.95 L483,222.95 L483.2,222.95 L483.4,222.95 L483.6,222.95 L483.8,222.95 L484,264.05 L484.2,264.05 L484.4,264.05 L484.6,264.05 L484.8,264.05 L485,264.05 L485.2,264.05 L485.4,264.05 L485.6,264.05 L485.8,264.05 L486,264.05 L486.2,264.05 L486.4,264.05 L486.6,264.05 L486.8,264.05 L487,264.05 L487.2,264.05 L487.4,264.05 L487.6,264.05 L487.8,264.05 L488,264.05 L488.2,264.05 L488.4,222.95 L488.6,209.39 L488.8,195.82 L489,195.82 L489.2,195.82 L489.4,195.82 L489.6,195.82 L489.8,195.82 L490,195.82 L490.2,195.82 L490.4,195.82 L490.6,195.82 L490.8,195.82 L491,195.82 L491.2,195.82 L491.4,195.82 L491.6,195.82 L491.8,189.25 L492,189.25 L492.2,189.25 L492.4,189.25 L492.6,189.25 L492.8,189.25 L493,189.25 L493.2,189.25 L493.4,189.25 L493.6,189.25 L493.8,189.25 L494,189.25 L494.2,222.95 L494.4,222.95 L494.6,222.95 L494.8,222.95 L495,222.95 L495.2,222.95 L495.4,222.95 L495.6,222.95 L495.8,222.95 L496,222.95 L496.2,222.95 L496.4,222.95 L496.6,222.95 L496.8,222.95 L497,222.95 L497.2,222.95 L497.2,257.86 L497,256.86 L496.8,255.86 L496.6,254.86 L496.4,253.86 L496.2,252.86 L496,251.86 L495.8,250.86 L495.6,249.86 L495.4,248.86 L495.2,247.86 L495,246.85 L494.8,245.94 L494.6,245.03 L494.4,244.11 L494.2,243.2 L494,242.29 L493.8,241.37 L493.6,240.46 L493.4,239.55 L493.2,238.63 L493,237.81 L492.8,236.99 L492.6,236.17 L492.4,235.35 L492.2,234.52 L492,233.7 L491.8,234.53 L491.6,235.35 L491.4,236.17 L491.2,236.99 L491,237.81 L490.8,238.64 L490.6,244.57 L490.4,250.51 L490.2,256.45 L490,262.38 L489.8,265.35 L489.6,265.35 L489.4,265.35 L489.2,265.35 L489,265.35 L488.8,265.35 L488.6,265.35 L488.4,265.35 L488.2,265.35 L488,265.35 L487.8,265.35 L487.6,265.35 L487.4,265.35 L487.2,265.35 L487,265.35 L486.8,265.35 L486.6,265.35 L486.4,265.35 L486.2,265.35 L486,265.35 L485.8,265.35 L485.6,265.35 L485.4,265.35 L485.2,265.35 L485,265.35 L484.8,265.35 L484.6,265.35 L484.4,265.35 L484.2,265.35 L484,265.35 L483.8,265.35 L483.6,265.35 L483.4,265.35 L483.2,265.35 L483,265.35 L482.8,265.35 L482.6,265.35 L482.4,230.83 L482.2,230.61 L482,230.39 L481.8,230.18 L481.6,229.96 L481.4,229.74 L481.2,229.53 L481,229.31 L480.8,229.1 L480.6,228.88 L480.4,228.74 L480.2,228.69 L480,228.63 L479.8,228.57 L479.6,228.51 L479.4,228.46 L479.2,228.4 L479,228.34 L478.8,228.28 L478.6,228.23 L478.4,228.17 L478.2,228.11 L478,228.06 L477.8,228 L477.6,227.94 L477.4,227.88 L477.2,227.83 L477,227.77 L476.8,227.71 L476.6,227.66 L476.4,227.6 L476.2,227.54 L476,227.48 L475.8,227.43 L475.6,227.37 L475.4,227.31 L475.2,227.25 L475,227.2 L474.8,227.14 L474.6,227.08 L474.4,227.03 L474.2,226.97 L474,226.91 L473.8,226.85 L473.6,226.8 L473.4,226.74 L473.2,226.68 L473,226.62 L472.8,226.57 L472.6,226.51 L472.4,226.61 L472.2,226.7 L472,226.8 L471.8,226.89 L471.6,226.99 L471.4,227.08 L471.2,227.18 L471,227.28 L470.8,227.37 L470.6,227.47 L470.4,227.56 L470.2,227.66 L470,227.75 L469.8,227.85 L469.6,227.94 L469.4,228.04 L469.2,228.14 L469,228.23 L468.8,228.33 L468.6,228.42 L468.4,228.52 L468.2,229 L468,229.87 L467.8,230.74 L467.6,231.62 L467.4,232.49 L467.2,233.36 L467,234.23 L466.8,235.1 L466.6,235.97 L466.4,236.84 L466.2,237.71 L466,238.59 L465.8,239.46 L465.6,241.04 L465.4,242.62 L465.2,244.2 L465,245.78 L464.8,247.36 L464.6,248.94 L464.4,250.52 L464.2,252.1 L464,253.68 L463.8,255.26 L463.6,256.85 L463.4,258.43 L463.2,260.01 L463,260.01 L462.8,260.01 L462.6,258.33 L462.4,256.65 L462.2,254.97 L462,253.29 L461.8,251.61 L461.6,249.93 L461.4,248.25 L461.2,246.57 L461,244.89 L460.8,243.21 L460.6,241.53 L460.4,235.89 L460.2,226.3 L460,225.84 L459.8,225.37 L459.6,224.9 L459.4,224.67 L459.2,224.68 L459,224.7 L458.8,224.71 L458.6,224.72 L458.4,224.74 L458.2,224.75 L458,224.76 L457.8,224.78 L457.6,224.79 L457.4,224.8 L457.2,224.82 L457,224.83 L456.8,224.85 L456.6,224.86 L456.4,224.87 L456.2,224.89 L456,224.9 L455.8,224.91 L455.6,224.93 L455.4,224.94 L455.2,224.96 L455,224.97 L454.8,224.98 L454.6,225 L454.4,225.01 L454.2,225.02 L454,225.04 L453.8,225.05 L453.6,225.07 L453.4,225.35 L453.2,225.89 L453,226.44 L452.8,226.99 L452.6,227.54 L452.4,228.09 L452.2,229.73 L452,232.47 L451.8,235.21 L451.6,250.97 L451.4,265.35 L451.2,265.35 L451,265.35 L450.8,265.35 L450.6,265.35 L450.4,265.35 L450.2,265.35 L450,265.35 L449.8,265.35 L449.6,265.35 L449.4,265.35 L449.2,265.35 L449,265.35 L448.8,265.35 L448.6,265.35 L448.4,265.35 L448.2,265.35 L448,265.35 L447.8,265.35 L447.6,265.35 L447.4,265.35 L447.2,265.35 L447,265.35 L446.8,265.35 L446.6,265.35 L446.4,265.35 L446.2,265.35 L446,265.35 L445.8,265.35 L445.6,265.35 L445.4,265.35 L445.2,265.35 L445,265.35 L444.8,265.35 L444.6,265.35 L444.4,265.35 L444.2,265.35 L444,265.35 L443.8,265.35 L443.6,265.35 L443.4,265.35 L443.2,265.35 L443,265.35 L442.8,265.35 L442.6,265.35 L442.4,265.35 L442.2,265.35 L442,265.35 L441.8,265.35 L441.6,265.35 L441.4,265.35 L441.2,265.35 L441,265.35 L440.8,265.35 L440.6,265.35 L440.4,265.35 L440.2,265.35 L440,265.35 L439.8,265.35 L439.6,265.35 L439.4,265.35 L439.2,265.35 L439,265.35 L438.8,265.35 L438.6,265.35 L438.4,265.35 L438.2,265.35 L438,265.35 L437.8,265.35 L437.6,265.35 L437.4,265.35 L437.2,265.35 L437,265.35 L436.8,265.35 L436.6,265.35 L436.4,265.35 L436.2,265.35 L436,265.35 L435.8,265.35 L435.6,265.35 L435.4,265.35 L435.2,265.35 L435,265.35 L434.8,265.35 L434.6,265.35 L434.4,265.35 L434.2,265.35 L434,265.35 L433.8,265.35 L433.6,265.35 L433.4,265.35 L433.2,265.35 L433,265.35 L432.8,265.35 L432.6,265.35 L432.4,265.35 L432.2,265.35 L432,265.35 L431.8,265.35 L431.6,265.35 L431.4,265.35 L431.2,265.35 L431,265.35 L430.8,265.35 L430.6,265.35 L430.4,265.35 L430.2,265.35 L430,265.35 L429.8,265.35 L429.6,265.35 L429.4,265.35 L429.2,265.35 L429,265.35 L428.8,265.35 L428.6,265.35 L428.4,265.35 L428.2,265.35 L428,265.35 L427.8,265.35 L427.6,265.35 L427.4,265.35 L427.2,265.35 L427,265.35 L426.8,265.35 L426.6,265.35 L426.4,265.35 L426.2,265.35 L426,265.35 L425.8,265.35 L425.6,265.35 L425.4,265.35 L425.2,265.35 L425,265.35 L424.8,265.35 L424.6,265.35 L424.4,265.35 L424.2,265.35 L424,265.35 L423.8,265.35 L423.6,265.35 L423.4,265.35 L423.2,265.35 L423,265.35 L422.8,265.35 L422.6,265.35 L422.4,265.35 L422.2,265.35 L422,265.35 L421.8,265.35 L421.6,265.35 L421.4,265.35 L421.2,265.35 L421,265.35 L420.8,265.35 L420.6,265.35 L420.4,265.35 L420.2,265.35 L420,265.35 L419.8,265.35 L419.6,265.35 L419.4,265.35 L419.2,265.35 L419,265.35 L418.8,265.35 L418.6,265.35 L418.4,265.35 L418.2,265.35 L418,265.35 L417.8,265.35 L417.6,265.35 L417.4,265.35 L417.2,265.35 L417,265.35 L416.8,265.35 L416.6,265.35 L416.4,265.35 L416.2,265.35 L416,265.35 L415.8,265.35 L415.6,265.35 L415.4,265.35 L415.2,265.35 L415,265.35 L414.8,265.35 L414.6,265.35 L414.4,265.35 L414.2,265.35 L414,265.35 L413.8,265.35 L413.6,265.35 L413.4,265.35 L413.2,265.35 L413,265.35 L412.8,265.35 L412.6,265.35 L412.4,265.35 L412.2,265.35 L412,265.35 L411.8,265.35 L411.6,265.35 L411.4,265.35 L411.2,265.35 L411,265.35 L410.8,265.35 L410.6,265.35 L410.4,265.35 L410.2,265.35 L410,265.35 L409.8,265.35 L409.6,253.02 L409.4,240.69 L409.2,237.61 L409,234.52 L408.8,231.44 L408.6,228.36 L408.4,227.69 L408.2,227.01 L408,226.34 L407.8,225.67 L407.6,225 L407.4,224.67 L407.2,224.7 L407,224.73 L406.8,224.75 L406.6,224.78 L406.4,224.8 L406.2,224.83 L406,224.86 L405.8,224.88 L405.6,224.91 L405.4,224.94 L405.2,224.96 L405,224.99 L404.8,225.01 L404.6,225.04 L404.4,225.07 L404.2,225.09 L404,225.12 L403.8,225.14 L403.6,225.17 L403.4,225.2 L403.2,225.22 L403,225.25 L402.8,225.27 L402.6,225.3 L402.4,225.33 L402.2,225.35 L402,225.38 L401.8,225.4 L401.6,225.43 L401.4,225.46 L401.2,225.48 L401,232.68 L400.8,239.87 L400.6,241.13 L400.4,242.4 L400.2,243.66 L400,244.93 L399.8,246.19 L399.6,247.46 L399.4,248.94 L399.2,250.66 L399,252.37 L398.8,254.08 L398.6,255.79 L398.4,257.51 L398.2,256.76 L398,253.54 L397.8,250.33 L397.6,247.12 L397.4,243.9 L397.2,240.69 L397,239.65 L396.8,238.61 L396.6,237.57 L396.4,236.53 L396.2,235.48 L396,234.44 L395.8,233.4 L395.6,232.68 L395.4,232.26 L395.2,231.85 L395,231.44 L394.8,231.03 L394.6,230.62 L394.4,230.3 L394.2,230.06 L394,229.82 L393.8,229.58 L393.6,229.34 L393.4,229.11 L393.2,228.87 L393,228.63 L392.8,228.39 L392.6,228.15 L392.4,228.07 L392.2,227.98 L392,227.9 L391.8,227.82 L391.6,227.73 L391.4,227.65 L391.2,227.56 L391,227.48 L390.8,227.39 L390.6,227.31 L390.4,227.22 L390.2,227.14 L390,227.05 L389.8,226.97 L389.6,226.88 L389.4,226.84 L389.2,226.84 L389,226.84 L388.8,226.84 L388.6,226.84 L388.4,226.84 L388.2,226.84 L388,226.84 L387.8,226.84 L387.6,226.84 L387.4,226.84 L387.2,226.84 L387,226.84 L386.8,226.84 L386.6,226.84 L386.4,226.88 L386.2,226.97 L386,227.05 L385.8,227.14 L385.6,227.23 L385.4,227.31 L385.2,227.4 L385,227.49 L384.8,227.57 L384.6,227.66 L384.4,227.74 L384.2,228.05 L384,228.36 L383.8,228.67 L383.6,228.98 L383.4,229.28 L383.2,229.59 L383,230.28 L382.8,230.96 L382.6,231.65 L382.4,265.35 L382.2,265.35 L382,265.35 L381.8,265.35 L381.6,265.35 L381.4,265.35 L381.2,265.35 L381,265.35 L380.8,265.35 L380.6,265.35 L380.4,265.35 L380.2,265.35 L380,265.35 L379.8,265.35 L379.6,265.35 L379.4,265.35 L379.2,265.35 L379,265.35 L378.8,265.35 L378.6,265.35 L378.4,265.35 L378.2,265.35 L378,265.35 L377.8,265.35 L377.6,265.35 L377.4,265.35 L377.2,265.35 L377,265.35 L376.8,265.35 L376.6,265.35 L376.4,265.35 L376.2,265.35 L376,265.35 L375.8,265.35 L375.6,265.35 L375.4,265.35 L375.2,265.35 L375,259.18 L374.8,253.02 L374.6,246.85 L374.4,240.69 L374.2,240.22 L374,239.75 L373.8,239.28 L373.6,238.81 L373.4,238.34 L373.2,237.87 L373,237.4 L372.8,236.93 L372.6,236.46 L372.4,235.99 L372.2,236.36 L372,237.57 L371.8,238.77 L371.6,239.98 L371.4,241.18 L371.2,242.39 L371,243.59 L370.8,244.8 L370.6,246.29 L370.4,247.79 L370.2,249.28 L370,250.78 L369.8,252.27 L369.6,252.46 L369.4,251.34 L369.2,250.22 L369,249.1 L368.8,247.98 L368.6,246.85 L368.4,246.85 L368.2,246.85 L368,246.85Z" fill="url(#gb3)" stroke="url(#gb3)" stroke-width="0.3" stroke-linejoin="round"/>
<rect x="364.95" y="162" width="133.05" height="110.9" fill="none" stroke="#4c4c4c" stroke-width="1.15"/>
<path d="M358.95,264.7 h6 M358.95,244.15 h6 M358.95,223.6 h6 M358.95,203.05 h6 M358.95,182.5 h6 M358.95,162 h6 M366.38,272.9 v6.3 M398.54,272.9 v6.3 M430.7,272.9 v6.3 M462.86,272.9 v6.3 M495.02,272.9 v6.3" stroke="#111" stroke-width="0.9" fill="none"/>
<g class="tb" text-anchor="end">
<text x="355.75" y="268.2">0.0</text>
<text x="355.75" y="247.65">0.5</text>
<text x="355.75" y="227.1">1.0</text>
<text x="355.75" y="206.55">1.5</text>
<text x="355.75" y="186">2.0</text>
<text x="355.75" y="165.8">2.5</text>
</g>
<g class="tb" text-anchor="middle">
<text x="365.98" y="292.5">-4</text>
<text x="398.14" y="292.5">-2</text>
<text x="430.9" y="292.5">0</text>
<text x="463.06" y="292.5">2</text>
<text x="495.22" y="292.5">4</text>
</g>
<text class="lb" x="431" y="308.25" text-anchor="middle">E-E<tspan dy="2.8" font-size="8">F</tspan><tspan dy="-2.8"> (eV)</tspan></text>
<text class="lb" transform="translate(332,218.15) rotate(-90)" text-anchor="middle">Conductance (2e<tspan dy="-6.1" font-size="6.9">2</tspan><tspan dy="6.1" dx="-0.4">/h)</tspan></text>
<g class="lg" transform="translate(0,0.5)" style="font-size:9.3px"><text x="401.4" y="180.8"><tspan font-style="italic">t</tspan> ON</text><text x="401.4" y="191.7" style="fill:#ff1a1a;stroke:#ff1a1a"><tspan font-style="italic">t</tspan><tspan dx="1.9">'</tspan> ON</text><text x="401.4" y="202.6"><tspan font-style="italic">t</tspan><tspan dx="1.9">''</tspan> ON</text></g>
<path d="M552.6,224.8 H557.8 V266.8 H552.6 Z M557.8,183.7 H585.5 V266.8 H557.8 Z M585.5,224.8 H610.4 V266.8 H585.5 Z M610.4,183.7 H623.7 V266.8 H610.4 Z M623.7,224.8 H648.8 V266.8 H623.7 Z M648.8,183.7 H680.8 V266.8 H648.8 Z M680.8,224.8 H682.8 V266.8 H680.8 Z" fill="#f0f0f0"/>
<path d="M553.5,224.25 L553.7,224.25 L553.9,224.25 L554.1,224.25 L554.3,224.25 L554.5,224.25 L554.7,224.25 L554.9,224.25 L555.1,224.25 L555.3,224.25 L555.5,224.25 L555.7,224.25 L555.9,222.71 L556.1,219.63 L556.3,216.54 L556.5,213.46 L556.7,208.36 L556.9,201.23 L557.1,194.11 L557.3,190.55 L557.5,190.55 L557.7,190.55 L557.9,190.55 L558.1,190.55 L558.3,190.55 L558.5,193.84 L558.7,193.84 L558.9,193.84 L559.1,193.84 L559.3,193.84 L559.5,193.84 L559.7,193.84 L559.9,193.84 L560.1,193.84 L560.3,193.84 L560.5,193.84 L560.7,193.84 L560.9,193.84 L561.1,193.84 L561.3,193.84 L561.5,193.84 L561.7,193.84 L561.9,193.84 L562.1,193.84 L562.3,193.84 L562.5,209.04 L562.7,237.95 L562.9,265.35 L563.1,263.24 L563.3,261.13 L563.5,259.03 L563.7,256.92 L563.9,254.81 L564.1,252.7 L564.3,250.6 L564.5,248.49 L564.7,246.38 L564.9,244.27 L565.1,242.17 L565.3,240.06 L565.5,237.95 L565.7,235.84 L565.9,233.73 L566.1,231.63 L566.3,229.52 L566.5,227.41 L566.7,225.3 L566.9,224.25 L567.1,224.25 L567.3,224.25 L567.5,224.25 L567.7,224.25 L567.9,224.25 L568.1,224.25 L568.3,224.25 L568.5,224.25 L568.7,224.25 L568.9,224.25 L569.1,224.25 L569.3,224.25 L569.5,224.25 L569.7,224.25 L569.9,224.25 L570.1,224.25 L570.3,224.25 L570.5,224.25 L570.7,224.25 L570.9,224.25 L571.1,224.25 L571.3,224.25 L571.5,224.25 L571.7,224.25 L571.9,224.25 L572.1,224.25 L572.3,224.25 L572.5,224.25 L572.7,224.25 L572.9,224.25 L573.1,224.25 L573.3,224.25 L573.5,224.25 L573.7,224.25 L573.9,224.25 L574.1,224.25 L574.3,224.25 L574.5,224.25 L574.7,224.25 L574.9,224.25 L575.1,224.25 L575.3,224.25 L575.5,224.25 L575.7,224.25 L575.9,224.25 L576.1,224.25 L576.3,224.25 L576.5,224.25 L576.7,224.25 L576.9,224.25 L577.1,224.25 L577.3,224.25 L577.5,224.25 L577.7,224.25 L577.9,224.25 L578.1,224.25 L578.3,224.25 L578.5,224.25 L578.7,224.25 L578.9,224.25 L579.1,224.25 L579.3,224.25 L579.5,224.25 L579.7,224.25 L579.9,224.25 L580.1,224.25 L580.3,224.25 L580.5,224.25 L580.7,224.25 L580.9,224.25 L581.1,224.25 L581.3,224.25 L581.5,224.25 L581.7,224.25 L581.9,224.25 L582.1,224.25 L582.3,216.03 L582.5,204.93 L582.7,204.93 L582.9,204.93 L583.1,204.93 L583.3,204.93 L583.5,204.93 L583.7,204.93 L583.9,204.93 L584.1,204.93 L584.3,204.93 L584.5,204.93 L584.7,207.81 L584.9,207.81 L585.1,207.81 L585.3,216.03 L585.5,216.03 L585.7,216.03 L585.9,216.03 L586.1,216.03 L586.3,224.25 L586.5,224.25 L586.7,224.25 L586.9,224.25 L587.1,224.25 L587.3,224.25 L587.5,224.25 L587.7,224.25 L587.9,224.25 L588.1,224.25 L588.3,224.25 L588.5,224.25 L588.7,224.25 L588.9,224.25 L589.1,224.25 L589.3,224.25 L589.5,224.25 L589.7,224.25 L589.9,224.25 L590.1,224.25 L590.3,224.25 L590.5,224.25 L590.7,224.25 L590.9,224.25 L591.1,224.25 L591.3,224.25 L591.5,224.25 L591.7,224.25 L591.9,224.25 L592.1,224.25 L592.3,224.25 L592.5,224.25 L592.7,224.25 L592.9,224.25 L593.1,224.25 L593.3,224.25 L593.5,224.25 L593.7,224.25 L593.9,224.25 L594.1,224.25 L594.3,224.25 L594.5,224.25 L594.7,224.25 L594.9,224.25 L595.1,224.25 L595.3,224.25 L595.5,224.25 L595.7,224.25 L595.9,224.25 L596.1,224.25 L596.3,224.25 L596.5,224.25 L596.7,228.36 L596.9,228.36 L597.1,228.36 L597.3,228.36 L597.5,240.69 L597.7,240.69 L597.9,240.69 L598.1,240.69 L598.3,265.35 L598.5,265.35 L598.7,265.35 L598.9,265.35 L599.1,265.35 L599.3,265.35 L599.5,265.35 L599.7,265.35 L599.9,265.35 L600.1,265.35 L600.3,265.35 L600.5,265.35 L600.7,265.35 L600.9,265.35 L601.1,265.35 L601.3,265.35 L601.5,265.35 L601.7,265.35 L601.9,265.35 L602.1,265.35 L602.3,265.35 L602.5,265.35 L602.7,259.19 L602.9,259.19 L603.1,259.19 L603.3,259.19 L603.5,259.19 L603.7,265.35 L603.9,265.35 L604.1,265.35 L604.3,265.35 L604.5,265.35 L604.7,265.35 L604.9,265.35 L605.1,265.35 L605.3,265.35 L605.5,265.35 L605.7,265.35 L605.9,265.35 L606.1,265.35 L606.3,265.35 L606.5,265.35 L606.7,265.35 L606.9,265.35 L607.1,265.35 L607.3,265.35 L607.5,265.35 L607.7,265.35 L607.9,265.35 L608.1,265.35 L608.3,261.65 L608.5,261.65 L608.7,261.65 L608.9,261.65 L609.1,261.65 L609.3,261.65 L609.5,261.65 L609.7,257.13 L609.9,257.13 L610.1,257.13 L610.3,257.13 L610.5,257.13 L610.7,257.13 L610.9,257.13 L611.1,251.79 L611.3,251.79 L611.5,251.79 L611.7,251.79 L611.9,251.79 L612.1,251.79 L612.3,251.79 L612.5,242.33 L612.7,242.33 L612.9,242.33 L613.1,242.33 L613.3,242.33 L613.5,227.54 L613.7,227.54 L613.9,227.54 L614.1,227.54 L614.3,227.54 L614.5,227.54 L614.7,227.54 L614.9,227.54 L615.1,227.54 L615.3,242.33 L615.5,242.33 L615.7,242.33 L615.9,242.33 L616.1,242.33 L616.3,242.33 L616.5,242.33 L616.7,242.33 L616.9,242.33 L617.1,242.33 L617.3,242.33 L617.5,224.25 L617.7,224.25 L617.9,224.25 L618.1,224.25 L618.3,224.25 L618.5,224.25 L618.7,224.25 L618.9,224.25 L619.1,224.25 L619.3,224.25 L619.5,242.33 L619.7,242.33 L619.9,242.33 L620.1,242.33 L620.3,242.33 L620.5,242.33 L620.7,242.33 L620.9,242.33 L621.1,242.33 L621.3,242.33 L621.5,242.33 L621.7,227.54 L621.9,227.54 L622.1,227.54 L622.3,227.54 L622.5,227.54 L622.7,227.54 L622.9,227.54 L623.1,227.54 L623.3,227.54 L623.5,227.54 L623.7,242.33 L623.9,242.33 L624.1,242.33 L624.3,242.33 L624.5,242.33 L624.7,251.79 L624.9,251.79 L625.1,251.79 L625.3,251.79 L625.5,251.79 L625.7,251.79 L625.9,251.79 L626.1,251.79 L626.3,257.13 L626.5,257.13 L626.7,257.13 L626.9,257.13 L627.1,257.13 L627.3,257.13 L627.5,257.13 L627.7,261.24 L627.9,261.24 L628.1,261.24 L628.3,261.24 L628.5,261.24 L628.7,261.24 L628.9,261.24 L629.1,261.24 L629.3,265.35 L629.5,265.35 L629.7,265.35 L629.9,265.35 L630.1,265.35 L630.3,265.35 L630.5,265.35 L630.7,265.35 L630.9,265.35 L631.1,265.35 L631.3,265.35 L631.5,265.35 L631.7,265.35 L631.9,265.35 L632.1,265.35 L632.3,265.35 L632.5,265.35 L632.7,265.35 L632.9,265.35 L633.1,259.19 L633.3,259.19 L633.5,259.19 L633.7,259.19 L633.9,259.19 L634.1,265.35 L634.3,265.35 L634.5,265.35 L634.7,265.35 L634.9,265.35 L635.1,265.35 L635.3,265.35 L635.5,265.35 L635.7,265.35 L635.9,265.35 L636.1,265.35 L636.3,265.35 L636.5,265.35 L636.7,265.35 L636.9,265.35 L637.1,265.35 L637.3,265.35 L637.5,265.35 L637.7,265.35 L637.9,265.35 L638.1,265.35 L638.3,265.35 L638.5,224.25 L638.7,224.25 L638.9,224.25 L639.1,224.25 L639.3,224.25 L639.5,224.25 L639.7,224.25 L639.9,224.25 L640.1,224.25 L640.3,224.25 L640.5,224.25 L640.7,224.25 L640.9,224.25 L641.1,224.25 L641.3,224.25 L641.5,224.25 L641.7,224.25 L641.9,224.25 L642.1,224.25 L642.3,224.25 L642.5,224.25 L642.7,224.25 L642.9,224.25 L643.1,224.25 L643.3,224.25 L643.5,224.25 L643.7,224.25 L643.9,224.25 L644.1,224.25 L644.3,224.25 L644.5,224.25 L644.7,224.25 L644.9,224.25 L645.1,224.25 L645.3,224.25 L645.5,224.25 L645.7,224.25 L645.9,224.25 L646.1,224.25 L646.3,224.25 L646.5,224.25 L646.7,224.25 L646.9,224.25 L647.1,224.25 L647.3,224.25 L647.5,224.25 L647.7,224.25 L647.9,224.25 L648.1,224.25 L648.3,224.25 L648.5,224.25 L648.7,224.25 L648.9,224.25 L649.1,224.25 L649.3,224.25 L649.5,224.25 L649.7,224.25 L649.9,224.25 L650.1,224.25 L650.3,224.25 L650.5,224.25 L650.7,224.25 L650.9,224.25 L651.1,224.25 L651.3,224.25 L651.5,224.25 L651.7,216.03 L651.9,216.03 L652.1,216.03 L652.3,203.7 L652.5,203.7 L652.7,203.7 L652.9,203.7 L653.1,203.7 L653.3,203.7 L653.5,203.7 L653.7,203.7 L653.9,203.7 L654.1,203.7 L654.3,203.7 L654.5,216.03 L654.7,216.03 L654.9,216.03 L655.1,216.03 L655.3,216.03 L655.5,224.25 L655.7,224.25 L655.9,224.25 L656.1,224.25 L656.3,224.25 L656.5,224.25 L656.7,224.25 L656.9,224.25 L657.1,224.25 L657.3,224.25 L657.5,224.25 L657.7,224.25 L657.9,224.25 L658.1,224.25 L658.3,224.25 L658.5,224.25 L658.7,224.25 L658.9,224.25 L659.1,224.25 L659.3,224.25 L659.5,224.25 L659.7,224.25 L659.9,224.25 L660.1,224.25 L660.3,224.25 L660.5,224.25 L660.7,224.25 L660.9,224.25 L661.1,224.25 L661.3,224.25 L661.5,224.25 L661.7,224.25 L661.9,224.25 L662.1,224.25 L662.3,224.25 L662.5,224.25 L662.7,224.25 L662.9,224.25 L663.1,224.25 L663.3,224.25 L663.5,224.25 L663.7,224.25 L663.9,224.25 L664.1,224.25 L664.3,224.25 L664.5,224.25 L664.7,224.25 L664.9,224.25 L665.1,224.25 L665.3,224.25 L665.5,224.25 L665.7,224.25 L665.9,224.25 L666.1,224.25 L666.3,224.25 L666.5,224.25 L666.7,224.25 L666.9,224.25 L667.1,224.25 L667.3,224.25 L667.5,224.25 L667.7,224.25 L667.9,224.25 L668.1,224.25 L668.3,224.25 L668.5,224.25 L668.7,224.25 L668.9,224.25 L669.1,224.25 L669.3,224.25 L669.5,224.25 L669.7,224.25 L669.9,224.25 L670.1,224.25 L670.3,265.35 L670.5,265.35 L670.7,265.35 L670.9,265.35 L671.1,265.35 L671.3,265.35 L671.5,265.35 L671.7,265.35 L671.9,265.35 L672.1,265.35 L672.3,265.35 L672.5,265.35 L672.7,265.35 L672.9,265.35 L673.1,265.35 L673.3,265.35 L673.5,265.35 L673.7,265.35 L673.9,265.35 L674.1,265.35 L674.3,224.25 L674.5,194.66 L674.7,194.66 L674.9,194.66 L675.1,194.66 L675.3,194.66 L675.5,194.66 L675.7,194.66 L675.9,194.66 L676.1,194.66 L676.3,194.66 L676.5,194.66 L676.7,194.66 L676.9,194.66 L677.1,193.01 L677.3,193.01 L677.5,193.01 L677.7,193.01 L677.9,193.01 L678.1,193.01 L678.3,193.01 L678.5,190.55 L678.7,190.55 L678.9,190.55 L679.1,190.55 L679.3,190.55 L679.5,190.55 L679.7,224.25 L679.9,224.25 L680.1,224.25 L680.3,224.25 L680.5,224.25 L680.7,224.25 L680.9,224.25 L681.1,224.25 L681.3,224.25 L681.5,224.25 L681.7,224.25 L681.9,224.25 L682.1,224.25 L682.3,224.25 L682.5,224.25 L682.7,224.25 L682.9,224.25 L683.1,224.25 L683.1,257.61 L682.9,256.17 L682.7,254.73 L682.5,253.29 L682.3,251.85 L682.1,250.42 L681.9,248.98 L681.7,247.54 L681.5,246.1 L681.3,244.66 L681.1,243.22 L680.9,241.78 L680.7,240.35 L680.5,238.91 L680.3,237.47 L680.1,236.03 L679.9,234.59 L679.7,233.15 L679.5,231.72 L679.3,230.97 L679.1,230.22 L678.9,229.47 L678.7,228.73 L678.5,227.98 L678.3,228.89 L678.1,231.46 L677.9,234.03 L677.7,236.6 L677.5,239.16 L677.3,241.73 L677.1,244.3 L676.9,246.87 L676.7,249.44 L676.5,252.01 L676.3,254.58 L676.1,257.15 L675.9,259.8 L675.7,262.54 L675.5,265.28 L675.3,266.65 L675.1,266.65 L674.9,266.65 L674.7,266.65 L674.5,266.65 L674.3,266.65 L674.1,266.65 L673.9,266.65 L673.7,266.65 L673.5,266.65 L673.3,266.65 L673.1,266.65 L672.9,266.65 L672.7,266.65 L672.5,266.65 L672.3,266.65 L672.1,266.65 L671.9,266.65 L671.7,266.65 L671.5,266.65 L671.3,266.65 L671.1,266.65 L670.9,266.65 L670.7,266.65 L670.5,266.65 L670.3,266.65 L670.1,266.65 L669.9,266.65 L669.7,266.65 L669.5,266.65 L669.3,266.65 L669.1,266.65 L668.9,232.95 L668.7,232.65 L668.5,232.36 L668.3,232.07 L668.1,231.77 L667.9,231.48 L667.7,231.19 L667.5,230.89 L667.3,230.76 L667.1,230.63 L666.9,230.51 L666.7,230.38 L666.5,230.25 L666.3,230.12 L666.1,229.99 L665.9,229.86 L665.7,229.73 L665.5,229.6 L665.3,229.47 L665.1,229.34 L664.9,229.21 L664.7,229.08 L664.5,228.96 L664.3,228.83 L664.1,228.7 L663.9,228.61 L663.7,228.57 L663.5,228.53 L663.3,228.49 L663.1,228.45 L662.9,228.41 L662.7,228.37 L662.5,228.32 L662.3,228.28 L662.1,228.24 L661.9,228.2 L661.7,228.16 L661.5,228.12 L661.3,228.08 L661.1,228.04 L660.9,228 L660.7,227.95 L660.5,227.91 L660.3,227.87 L660.1,227.83 L659.9,227.85 L659.7,227.93 L659.5,228.02 L659.3,228.1 L659.1,228.18 L658.9,228.26 L658.7,228.34 L658.5,228.43 L658.3,228.51 L658.1,228.59 L657.9,228.67 L657.7,228.76 L657.5,228.84 L657.3,228.92 L657.1,229 L656.9,229.2 L656.7,229.51 L656.5,229.81 L656.3,230.12 L656.1,230.43 L655.9,230.74 L655.7,231.05 L655.5,231.36 L655.3,231.66 L655.1,231.97 L654.9,233.11 L654.7,235.09 L654.5,237.06 L654.3,239.03 L654.1,241 L653.9,242.78 L653.7,244.35 L653.5,245.93 L653.3,247.5 L653.1,249.08 L652.9,250.66 L652.7,252.23 L652.5,253.81 L652.3,255.38 L652.1,256.96 L651.9,258.53 L651.7,260.11 L651.5,260.9 L651.3,260.9 L651.1,260.9 L650.9,259.85 L650.7,257.76 L650.5,255.67 L650.3,253.57 L650.1,251.48 L649.9,249.39 L649.7,247.3 L649.5,245.2 L649.3,243.11 L649.1,241.02 L648.9,238.93 L648.7,236.37 L648.5,233.36 L648.3,230.35 L648.1,228.6 L647.9,228.12 L647.7,227.64 L647.5,227.16 L647.3,226.68 L647.1,226.2 L646.9,225.97 L646.7,225.98 L646.5,226 L646.3,226.02 L646.1,226.03 L645.9,226.05 L645.7,226.06 L645.5,226.08 L645.3,226.1 L645.1,226.11 L644.9,226.13 L644.7,226.14 L644.5,226.16 L644.3,226.17 L644.1,226.19 L643.9,226.21 L643.7,226.22 L643.5,226.24 L643.3,226.25 L643.1,226.27 L642.9,226.29 L642.7,226.3 L642.5,226.32 L642.3,226.33 L642.1,226.35 L641.9,226.36 L641.7,226.65 L641.5,227.19 L641.3,227.74 L641.1,228.29 L640.9,228.84 L640.7,229.39 L640.5,232.01 L640.3,236.71 L640.1,241.4 L639.9,246.1 L639.7,259.8 L639.5,266.65 L639.3,266.65 L639.1,266.65 L638.9,266.65 L638.7,266.65 L638.5,266.65 L638.3,266.65 L638.1,266.65 L637.9,266.65 L637.7,266.65 L637.5,266.65 L637.3,266.65 L637.1,266.65 L636.9,266.65 L636.7,266.65 L636.5,266.65 L636.3,266.65 L636.1,266.65 L635.9,266.65 L635.7,266.65 L635.5,266.65 L635.3,266.65 L635.1,266.65 L634.9,266.65 L634.7,266.65 L634.5,266.65 L634.3,266.65 L634.1,266.65 L633.9,266.65 L633.7,266.65 L633.5,266.65 L633.3,266.65 L633.1,266.65 L632.9,266.65 L632.7,266.65 L632.5,266.65 L632.3,266.65 L632.1,266.65 L631.9,266.65 L631.7,266.65 L631.5,266.65 L631.3,266.65 L631.1,266.65 L630.9,266.65 L630.7,266.65 L630.5,266.65 L630.3,266.65 L630.1,266.65 L629.9,266.65 L629.7,266.65 L629.5,266.65 L629.3,266.65 L629.1,266.65 L628.9,266.65 L628.7,266.65 L628.5,266.65 L628.3,266.65 L628.1,266.65 L627.9,266.65 L627.7,266.65 L627.5,266.65 L627.3,266.65 L627.1,266.65 L626.9,266.65 L626.7,266.65 L626.5,266.65 L626.3,266.65 L626.1,266.65 L625.9,266.65 L625.7,266.65 L625.5,266.65 L625.3,266.65 L625.1,266.65 L624.9,266.65 L624.7,266.65 L624.5,266.65 L624.3,266.65 L624.1,266.65 L623.9,266.65 L623.7,266.65 L623.5,266.65 L623.3,266.65 L623.1,266.65 L622.9,266.65 L622.7,266.65 L622.5,266.65 L622.3,266.65 L622.1,266.65 L621.9,266.65 L621.7,266.65 L621.5,266.65 L621.3,266.65 L621.1,266.65 L620.9,266.65 L620.7,266.65 L620.5,266.65 L620.3,266.65 L620.1,266.65 L619.9,266.65 L619.7,266.65 L619.5,266.65 L619.3,266.65 L619.1,266.65 L618.9,266.65 L618.7,266.65 L618.5,266.65 L618.3,266.65 L618.1,266.65 L617.9,266.65 L617.7,266.65 L617.5,266.65 L617.3,266.65 L617.1,266.65 L616.9,266.65 L616.7,266.65 L616.5,266.65 L616.3,266.65 L616.1,266.65 L615.9,266.65 L615.7,266.65 L615.5,266.65 L615.3,266.65 L615.1,266.65 L614.9,266.65 L614.7,266.65 L614.5,266.65 L614.3,266.65 L614.1,266.65 L613.9,266.65 L613.7,266.65 L613.5,266.65 L613.3,266.65 L613.1,266.65 L612.9,266.65 L612.7,266.65 L612.5,266.65 L612.3,266.65 L612.1,266.65 L611.9,266.65 L611.7,266.65 L611.5,266.65 L611.3,266.65 L611.1,266.65 L610.9,266.65 L610.7,266.65 L610.5,266.65 L610.3,266.65 L610.1,266.65 L609.9,266.65 L609.7,266.65 L609.5,266.65 L609.3,266.65 L609.1,266.65 L608.9,266.65 L608.7,266.65 L608.5,266.65 L608.3,266.65 L608.1,266.65 L607.9,266.65 L607.7,266.65 L607.5,266.65 L607.3,266.65 L607.1,266.65 L606.9,266.65 L606.7,266.65 L606.5,266.65 L606.3,266.65 L606.1,266.65 L605.9,266.65 L605.7,266.65 L605.5,266.65 L605.3,266.65 L605.1,266.65 L604.9,266.65 L604.7,266.65 L604.5,266.65 L604.3,266.65 L604.1,266.65 L603.9,266.65 L603.7,266.65 L603.5,266.65 L603.3,266.65 L603.1,266.65 L602.9,266.65 L602.7,266.65 L602.5,266.65 L602.3,266.65 L602.1,266.65 L601.9,266.65 L601.7,266.65 L601.5,266.65 L601.3,266.65 L601.1,266.65 L600.9,266.65 L600.7,266.65 L600.5,266.65 L600.3,266.65 L600.1,266.65 L599.9,266.65 L599.7,266.65 L599.5,266.65 L599.3,266.65 L599.1,266.65 L598.9,266.65 L598.7,266.65 L598.5,266.65 L598.3,266.65 L598.1,266.65 L597.9,266.65 L597.7,266.65 L597.5,266.65 L597.3,266.65 L597.1,266.65 L596.9,258.43 L596.7,250.21 L596.5,245.51 L596.3,240.82 L596.1,236.12 L595.9,232.99 L595.7,231.43 L595.5,229.87 L595.3,228.3 L595.1,226.74 L594.9,225.98 L594.7,226 L594.5,226.03 L594.3,226.06 L594.1,226.09 L593.9,226.12 L593.7,226.15 L593.5,226.17 L593.3,226.2 L593.1,226.23 L592.9,226.26 L592.7,226.29 L592.5,226.32 L592.3,226.34 L592.1,226.37 L591.9,226.4 L591.7,226.43 L591.5,226.46 L591.3,226.49 L591.1,226.51 L590.9,226.54 L590.7,226.57 L590.5,226.6 L590.3,226.63 L590.1,226.66 L589.9,226.68 L589.7,226.71 L589.5,226.74 L589.3,226.77 L589.1,228.63 L588.9,232.33 L588.7,236.03 L588.5,238.84 L588.3,240.76 L588.1,242.67 L587.9,244.59 L587.7,246.51 L587.5,248.43 L587.3,250.35 L587.1,252.26 L586.9,254.18 L586.7,256.1 L586.5,258.02 L586.3,259.94 L586.1,260.9 L585.9,260.9 L585.7,260.9 L585.5,260.9 L585.3,259.2 L585.1,257.51 L584.9,255.81 L584.7,254.11 L584.5,252.42 L584.3,250.72 L584.1,249.03 L583.9,247.33 L583.7,245.64 L583.5,243.94 L583.3,242.25 L583.1,240.55 L582.9,238.86 L582.7,237.16 L582.5,235.47 L582.3,233.77 L582.1,233.39 L581.9,233.01 L581.7,232.63 L581.5,232.25 L581.3,231.87 L581.1,231.49 L580.9,231.22 L580.7,231.06 L580.5,230.89 L580.3,230.73 L580.1,230.56 L579.9,230.4 L579.7,230.24 L579.5,230.07 L579.3,229.91 L579.1,229.74 L578.9,229.58 L578.7,229.41 L578.5,229.25 L578.3,229.08 L578.1,228.92 L577.9,228.82 L577.7,228.79 L577.5,228.76 L577.3,228.72 L577.1,228.69 L576.9,228.66 L576.7,228.62 L576.5,228.59 L576.3,228.56 L576.1,228.53 L575.9,228.49 L575.7,228.46 L575.5,228.43 L575.3,228.39 L575.1,228.36 L574.9,228.33 L574.7,228.3 L574.5,228.26 L574.3,228.23 L574.1,228.2 L573.9,228.16 L573.7,228.13 L573.5,228.1 L573.3,228.07 L573.1,228.03 L572.9,228.05 L572.7,228.13 L572.5,228.2 L572.3,228.27 L572.1,228.35 L571.9,228.42 L571.7,228.49 L571.5,228.57 L571.3,228.64 L571.1,228.71 L570.9,228.79 L570.7,228.86 L570.5,228.93 L570.3,229.01 L570.1,229.18 L569.9,229.44 L569.7,229.7 L569.5,229.97 L569.3,230.23 L569.1,230.5 L568.9,230.76 L568.7,231.19 L568.5,231.77 L568.3,232.36 L568.1,232.95 L567.9,266.65 L567.7,266.65 L567.5,266.65 L567.3,266.65 L567.1,266.65 L566.9,266.65 L566.7,266.65 L566.5,266.65 L566.3,266.65 L566.1,266.65 L565.9,266.65 L565.7,266.65 L565.5,266.65 L565.3,266.65 L565.1,266.65 L564.9,266.65 L564.7,266.65 L564.5,266.65 L564.3,266.65 L564.1,266.65 L563.9,266.65 L563.7,266.65 L563.5,266.65 L563.3,266.65 L563.1,266.65 L562.9,266.65 L562.7,266.65 L562.5,266.65 L562.3,266.65 L562.1,266.65 L561.9,266.65 L561.7,265.31 L561.5,262.63 L561.3,259.95 L561.1,257.27 L560.9,254.59 L560.7,251.91 L560.5,249.23 L560.3,246.55 L560.1,243.87 L559.9,241.19 L559.7,238.51 L559.5,235.83 L559.3,234.46 L559.1,233.09 L558.9,231.72 L558.7,230.35 L558.5,229.4 L558.3,228.89 L558.1,228.38 L557.9,227.86 L557.7,228.49 L557.5,230.25 L557.3,232.01 L557.1,233.77 L556.9,235.53 L556.7,237.29 L556.5,239.05 L556.3,240.82 L556.1,242.58 L555.9,244.34 L555.7,246.1 L555.5,247.86 L555.3,249.62 L555.1,251.38 L554.9,253.15 L554.7,254.91 L554.5,256.67 L554.3,258.43 L554.1,258.64 L553.9,258.84 L553.7,259.05 L553.5,259.25Z" fill="url(#gb4)" stroke="url(#gb4)" stroke-width="0.3" stroke-linejoin="round"/>
<rect x="551.5" y="163.3" width="132.5" height="110.5" fill="none" stroke="#2a2a2a" stroke-width="1"/>
<path d="M545.5,266 h6 M545.5,245.45 h6 M545.5,224.9 h6 M545.5,204.35 h6 M545.5,183.8 h6 M545.5,163.3 h6 M553.2,273.8 v6.3 M585.4,273.8 v6.3 M617.6,273.8 v6.3 M649.8,273.8 v6.3 M682,273.8 v6.3" stroke="#111" stroke-width="0.9" fill="none"/>
<g class="tb" text-anchor="end">
<text x="542.3" y="269.5">0.0</text>
<text x="542.3" y="248.95">0.5</text>
<text x="542.3" y="228.4">1.0</text>
<text x="542.3" y="207.85">1.5</text>
<text x="542.3" y="187.3">2.0</text>
<text x="542.3" y="167.1">2.5</text>
</g>
<g class="tb" text-anchor="middle">
<text x="552.8" y="293.4">-4</text>
<text x="585" y="293.4">-2</text>
<text x="617.8" y="293.4">0</text>
<text x="650" y="293.4">2</text>
<text x="682.2" y="293.4">4</text>
</g>
<text class="lb" x="617.9" y="309.15" text-anchor="middle">E-E<tspan dy="2.8" font-size="8">F</tspan><tspan dy="-2.8"> (eV)</tspan></text>
<text class="lb" transform="translate(517.6,219.25) rotate(-90)" text-anchor="middle">Conductance (2e<tspan dy="-6.1" font-size="6.9">2</tspan><tspan dy="6.1" dx="-0.4">/h)</tspan></text>
<g class="lg" transform="translate(-0.3,0.9)" style="font-size:9.3px"><text x="586.4" y="183.4"><tspan font-style="italic">t</tspan> ON</text><text x="586.4" y="194.4" style="fill:#ff1a1a;stroke:#ff1a1a"><tspan font-style="italic">t</tspan><tspan dx="1.9">'</tspan> OFF</text><text x="586.4" y="205.3"><tspan font-style="italic">t</tspan><tspan dx="1.9">''</tspan> ON</text></g>
<text class="ta" x="323.0" y="10.5" style="font-size:13.4px">(B)</text>
</svg>
</body></html>
